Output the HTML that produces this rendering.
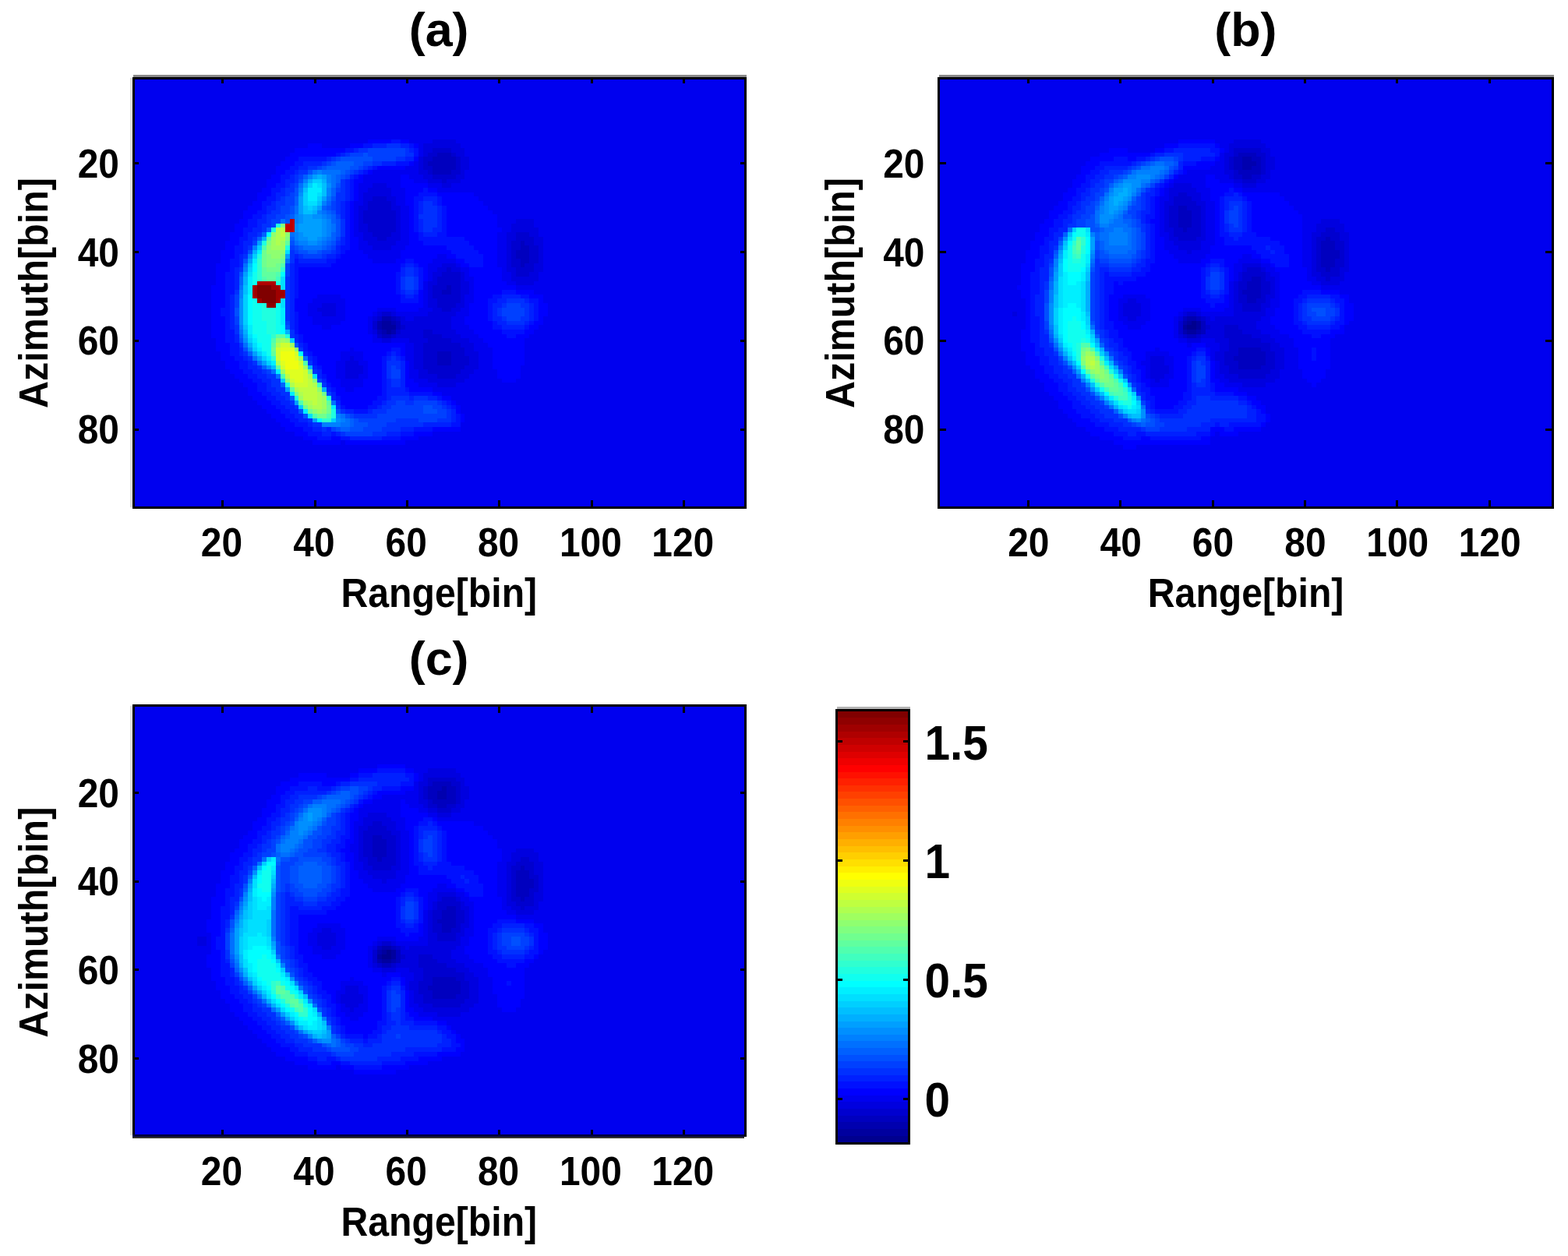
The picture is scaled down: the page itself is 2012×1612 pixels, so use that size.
<!DOCTYPE html>
<html lang="en"><head><meta charset="utf-8"><title>Range-Azimuth maps</title>
<style>html,body{margin:0;padding:0;background:#fff}body{width:2012px;height:1612px;overflow:hidden}svg{display:block}.t{font-family:"Liberation Sans",sans-serif;font-weight:bold;fill:#000}</style></head>
<body>
<svg width="2012" height="1612" viewBox="0 0 2012 1612">
<rect width="2012" height="1612" fill="#fff"/>
<g shape-rendering="crispEdges">
<rect x="170" y="99" width="788" height="554" fill="#0000ef"/>
<path fill="#00009f" d="M490 412h12v5h-12zM490 417h18v6h-18zM496 423h6v6h-6z"/>
<path fill="#0000af" d="M490 406h12v6h-12zM484 412h6v5h-6zM502 412h6v5h-6zM484 417h6v6h-6zM490 423h6v6h-6zM502 423h6v6h-6z"/>
<path fill="#0000bf" d="M561 196h18v5h-18zM555 201h30v6h-30zM549 207h36v6h-36zM555 213h30v5h-30zM555 218h24v6h-24zM668 309h5v6h-5zM668 315h11v6h-11zM662 321h17v5h-17zM662 326h17v6h-17zM668 332h11v6h-11zM668 338h5v5h-5zM573 366h6v6h-6zM567 372h12v6h-12zM502 406h6v6h-6zM508 412h6v5h-6zM508 417h6v6h-6zM484 423h6v6h-6zM490 429h12v5h-12zM561 451h18v6h-18zM561 457h18v6h-18zM561 463h18v6h-18z"/>
<path fill="#0000cf" d="M555 190h24v6h-24zM549 196h12v5h-12zM579 196h6v5h-6zM543 201h12v6h-12zM585 201h6v6h-6zM543 207h6v6h-6zM585 207h6v6h-6zM543 213h12v5h-12zM585 213h6v5h-6zM549 218h6v6h-6zM579 218h12v6h-12zM555 224h30v6h-30zM567 230h6v5h-6zM478 252h18v6h-18zM472 258h30v6h-30zM472 264h30v6h-30zM466 270h42v5h-42zM466 275h42v6h-42zM466 281h42v6h-42zM472 287h36v5h-36zM472 292h36v6h-36zM478 298h24v6h-24zM662 298h17v6h-17zM484 304h12v5h-12zM662 304h23v5h-23zM656 309h12v6h-12zM673 309h12v6h-12zM656 315h12v6h-12zM679 315h12v6h-12zM656 321h6v5h-6zM679 321h12v5h-12zM656 326h6v6h-6zM679 326h12v6h-12zM656 332h12v6h-12zM679 332h12v6h-12zM656 338h12v5h-12zM673 338h12v5h-12zM573 343h6v6h-6zM662 343h23v6h-23zM567 349h24v6h-24zM662 349h17v6h-17zM561 355h30v6h-30zM561 361h30v5h-30zM555 366h18v6h-18zM579 366h12v6h-12zM555 372h12v6h-12zM579 372h12v6h-12zM555 378h36v5h-36zM561 383h30v6h-30zM561 389h24v6h-24zM567 395h12v5h-12zM490 400h12v6h-12zM484 406h6v6h-6zM508 406h6v6h-6zM478 412h6v5h-6zM478 417h6v6h-6zM514 417h6v6h-6zM508 423h6v6h-6zM543 423h12v6h-12zM484 429h6v5h-6zM502 429h6v5h-6zM543 429h24v5h-24zM549 434h30v6h-30zM543 440h48v6h-48zM543 446h53v5h-53zM543 451h18v6h-18zM579 451h17v6h-17zM543 457h18v6h-18zM579 457h23v6h-23zM543 463h18v6h-18zM579 463h23v6h-23zM543 469h53v5h-53zM549 474h42v6h-42zM561 480h24v6h-24z"/>
<path fill="#0000df" d="M555 179h30v5h-30zM543 184h48v6h-48zM543 190h12v6h-12zM579 190h17v6h-17zM543 196h6v5h-6zM585 196h11v5h-11zM537 201h6v6h-6zM591 201h11v6h-11zM537 207h6v6h-6zM591 207h11v6h-11zM537 213h6v5h-6zM591 213h11v5h-11zM537 218h12v6h-12zM591 218h5v6h-5zM543 224h12v6h-12zM585 224h11v6h-11zM549 230h18v5h-18zM573 230h18v5h-18zM478 235h18v6h-18zM567 235h12v6h-12zM472 241h30v6h-30zM466 247h36v5h-36zM466 252h12v6h-12zM496 252h12v6h-12zM466 258h6v6h-6zM502 258h6v6h-6zM460 264h12v6h-12zM502 264h12v6h-12zM460 270h6v5h-6zM508 270h6v5h-6zM460 275h6v6h-6zM508 275h6v6h-6zM460 281h6v6h-6zM508 281h6v6h-6zM662 281h23v6h-23zM460 287h12v5h-12zM508 287h6v5h-6zM656 287h29v5h-29zM460 292h12v6h-12zM508 292h6v6h-6zM656 292h35v6h-35zM466 298h12v6h-12zM502 298h12v6h-12zM650 298h12v6h-12zM679 298h12v6h-12zM466 304h18v5h-18zM496 304h18v5h-18zM650 304h12v5h-12zM685 304h12v5h-12zM472 309h36v6h-36zM650 309h6v6h-6zM685 309h12v6h-12zM478 315h24v6h-24zM650 315h6v6h-6zM691 315h6v6h-6zM650 321h6v5h-6zM691 321h6v5h-6zM650 326h6v6h-6zM691 326h6v6h-6zM650 332h6v6h-6zM691 332h6v6h-6zM567 338h18v5h-18zM650 338h6v5h-6zM685 338h12v5h-12zM561 343h12v6h-12zM579 343h12v6h-12zM650 343h12v6h-12zM685 343h12v6h-12zM555 349h12v6h-12zM591 349h5v6h-5zM656 349h6v6h-6zM679 349h12v6h-12zM555 355h6v6h-6zM591 355h5v6h-5zM656 355h35v6h-35zM549 361h12v5h-12zM591 361h11v5h-11zM662 361h23v5h-23zM549 366h6v6h-6zM591 366h11v6h-11zM549 372h6v6h-6zM591 372h11v6h-11zM549 378h6v5h-6zM591 378h5v5h-5zM549 383h12v6h-12zM591 383h5v6h-5zM413 389h18v6h-18zM549 389h12v6h-12zM585 389h11v6h-11zM407 395h24v5h-24zM555 395h12v5h-12zM579 395h12v5h-12zM413 400h18v6h-18zM484 400h6v6h-6zM502 400h6v6h-6zM549 400h36v6h-36zM478 406h6v6h-6zM514 406h6v6h-6zM531 406h48v6h-48zM514 412h65v5h-65zM520 417h59v6h-59zM478 423h6v6h-6zM514 423h29v6h-29zM555 423h30v6h-30zM508 429h35v5h-35zM567 429h24v5h-24zM490 434h12v6h-12zM525 434h24v6h-24zM579 434h23v6h-23zM531 440h12v6h-12zM591 440h17v6h-17zM531 446h12v5h-12zM596 446h12v5h-12zM531 451h12v6h-12zM596 451h18v6h-18zM449 457h5v6h-5zM531 457h12v6h-12zM602 457h12v6h-12zM443 463h17v6h-17zM531 463h12v6h-12zM602 463h12v6h-12zM443 469h23v5h-23zM531 469h12v5h-12zM596 469h18v5h-18zM443 474h23v6h-23zM537 474h12v6h-12zM591 474h17v6h-17zM443 480h17v6h-17zM537 480h24v6h-24zM585 480h17v6h-17zM549 486h47v5h-47zM561 491h24v6h-24z"/>
<path fill="#0000ff" d="M472 179h30v5h-30zM514 179h11v5h-11zM395 184h18v6h-18zM449 184h17v6h-17zM531 184h6v6h-6zM378 190h65v6h-65zM372 196h59v5h-59zM366 201h17v6h-17zM531 201h6v6h-6zM360 207h18v6h-18zM525 207h6v6h-6zM354 213h18v5h-18zM484 213h36v5h-36zM354 218h12v6h-12zM472 218h6v6h-6zM348 224h12v6h-12zM460 224h6v6h-6zM514 224h11v6h-11zM342 230h18v5h-18zM454 230h12v5h-12zM514 230h17v5h-17zM342 235h12v6h-12zM454 235h6v6h-6zM514 235h35v6h-35zM336 241h12v6h-12zM454 241h6v6h-6zM520 241h23v6h-23zM549 241h12v6h-12zM330 247h18v5h-18zM454 247h6v5h-6zM520 247h17v5h-17zM561 247h47v5h-47zM330 252h12v6h-12zM454 252h6v6h-6zM520 252h11v6h-11zM567 252h47v6h-47zM324 258h12v6h-12zM449 258h5v6h-5zM520 258h11v6h-11zM567 258h53v6h-53zM318 264h18v6h-18zM449 264h5v6h-5zM525 264h6v6h-6zM573 264h53v6h-53zM312 270h18v5h-18zM449 270h5v5h-5zM525 270h6v5h-6zM573 270h59v5h-59zM312 275h12v6h-12zM449 275h5v6h-5zM525 275h6v6h-6zM573 275h65v6h-65zM307 281h11v6h-11zM449 281h5v6h-5zM525 281h6v6h-6zM573 281h65v6h-65zM301 287h17v5h-17zM449 287h5v5h-5zM525 287h6v5h-6zM573 287h65v5h-65zM301 292h11v6h-11zM449 292h5v6h-5zM525 292h6v6h-6zM573 292h71v6h-71zM295 298h17v6h-17zM449 298h5v6h-5zM525 298h12v6h-12zM573 298h65v6h-65zM295 304h12v5h-12zM449 304h11v5h-11zM525 304h12v5h-12zM596 304h42v5h-42zM289 309h18v6h-18zM449 309h11v6h-11zM525 309h18v6h-18zM602 309h36v6h-36zM289 315h12v6h-12zM449 315h11v6h-11zM520 315h53v6h-53zM608 315h30v6h-30zM283 321h18v5h-18zM443 321h23v5h-23zM514 321h65v5h-65zM614 321h24v5h-24zM283 326h18v6h-18zM437 326h35v6h-35zM514 326h47v6h-47zM573 326h12v6h-12zM620 326h18v6h-18zM283 332h12v6h-12zM431 332h47v6h-47zM508 332h12v6h-12zM531 332h24v6h-24zM585 332h11v6h-11zM620 332h18v6h-18zM277 338h18v5h-18zM425 338h89v5h-89zM537 338h12v5h-12zM591 338h11v5h-11zM620 338h18v5h-18zM277 343h18v6h-18zM383 343h131v6h-131zM543 343h6v6h-6zM602 343h42v6h-42zM277 349h12v6h-12zM383 349h125v6h-125zM543 349h6v6h-6zM602 349h42v6h-42zM277 355h12v6h-12zM383 355h125v6h-125zM543 355h6v6h-6zM608 355h36v6h-36zM277 361h12v5h-12zM383 361h125v5h-125zM608 361h42v5h-42zM271 366h18v6h-18zM383 366h125v6h-125zM608 366h54v6h-54zM271 372h18v6h-18zM383 372h125v6h-125zM537 372h6v6h-6zM608 372h36v6h-36zM662 372h23v6h-23zM271 378h18v5h-18zM383 378h24v5h-24zM437 378h77v5h-77zM537 378h6v5h-6zM608 378h24v5h-24zM679 378h18v5h-18zM271 383h18v6h-18zM378 383h23v6h-23zM443 383h71v6h-71zM537 383h6v6h-6zM608 383h18v6h-18zM691 383h6v6h-6zM271 389h18v6h-18zM378 389h17v6h-17zM443 389h100v6h-100zM602 389h24v6h-24zM691 389h12v6h-12zM271 395h12v5h-12zM378 395h17v5h-17zM443 395h41v5h-41zM508 395h29v5h-29zM602 395h24v5h-24zM691 395h12v5h-12zM271 400h12v6h-12zM383 400h12v6h-12zM443 400h35v6h-35zM602 400h24v6h-24zM691 400h12v6h-12zM271 406h18v6h-18zM383 406h18v6h-18zM443 406h29v6h-29zM596 406h30v6h-30zM691 406h6v6h-6zM271 412h18v5h-18zM383 412h18v5h-18zM437 412h35v5h-35zM596 412h36v5h-36zM685 412h12v5h-12zM271 417h18v6h-18zM383 417h30v6h-30zM425 417h47v6h-47zM602 417h30v6h-30zM679 417h12v6h-12zM271 423h18v6h-18zM383 423h89v6h-89zM608 423h36v6h-36zM673 423h12v6h-12zM271 429h18v5h-18zM389 429h89v5h-89zM614 429h36v5h-36zM662 429h17v5h-17zM277 434h12v6h-12zM389 434h89v6h-89zM620 434h53v6h-53zM277 440h18v6h-18zM395 440h125v6h-125zM626 440h47v6h-47zM277 446h18v5h-18zM395 446h54v5h-54zM454 446h48v5h-48zM514 446h6v5h-6zM632 446h41v5h-41zM283 451h12v6h-12zM401 451h36v6h-36zM466 451h30v6h-30zM514 451h6v6h-6zM632 451h41v6h-41zM283 457h18v6h-18zM407 457h30v6h-30zM466 457h24v6h-24zM632 457h41v6h-41zM289 463h18v6h-18zM407 463h24v6h-24zM472 463h18v6h-18zM520 463h5v6h-5zM632 463h41v6h-41zM289 469h18v5h-18zM413 469h18v5h-18zM472 469h18v5h-18zM520 469h5v5h-5zM632 469h36v5h-36zM295 474h17v6h-17zM413 474h18v6h-18zM472 474h18v6h-18zM520 474h5v6h-5zM638 474h30v6h-30zM301 480h17v6h-17zM419 480h12v6h-12zM472 480h18v6h-18zM520 480h5v6h-5zM638 480h30v6h-30zM307 486h17v5h-17zM419 486h18v5h-18zM466 486h24v5h-24zM520 486h11v5h-11zM644 486h18v5h-18zM312 491h18v6h-18zM425 491h12v6h-12zM466 491h24v6h-24zM520 491h17v6h-17zM318 497h12v6h-12zM431 497h12v6h-12zM454 497h36v6h-36zM525 497h30v6h-30zM318 503h18v5h-18zM431 503h59v5h-59zM555 503h12v5h-12zM324 508h18v6h-18zM437 508h47v6h-47zM567 508h12v6h-12zM330 514h18v6h-18zM437 514h41v6h-41zM579 514h6v6h-6zM336 520h18v5h-18zM443 520h29v5h-29zM585 520h6v5h-6zM342 525h18v6h-18zM585 525h6v6h-6zM348 531h18v6h-18zM591 531h5v6h-5zM354 537h18v5h-18zM591 537h5v5h-5zM360 542h18v6h-18zM366 548h23v6h-23zM555 548h36v6h-36zM378 554h17v6h-17zM531 554h24v6h-24zM389 560h18v5h-18zM425 560h12v5h-12zM514 560h23v5h-23zM401 565h36v6h-36zM443 565h77v6h-77z"/>
<path fill="#0010ff" d="M502 179h12v5h-12zM466 184h12v6h-12zM525 184h6v6h-6zM443 190h11v6h-11zM531 190h6v6h-6zM431 196h6v5h-6zM531 196h6v5h-6zM383 201h36v6h-36zM378 207h11v6h-11zM508 207h17v6h-17zM372 213h11v5h-11zM478 213h6v5h-6zM366 218h12v6h-12zM466 218h6v6h-6zM360 224h12v6h-12zM454 224h6v6h-6zM360 230h6v5h-6zM449 230h5v5h-5zM354 235h12v6h-12zM449 235h5v6h-5zM348 241h12v6h-12zM449 241h5v6h-5zM543 241h6v6h-6zM348 247h6v5h-6zM449 247h5v5h-5zM537 247h24v5h-24zM342 252h12v6h-12zM449 252h5v6h-5zM531 252h12v6h-12zM561 252h6v6h-6zM336 258h12v6h-12zM443 258h6v6h-6zM531 258h6v6h-6zM561 258h6v6h-6zM336 264h6v6h-6zM443 264h6v6h-6zM531 264h6v6h-6zM567 264h6v6h-6zM330 270h12v5h-12zM443 270h6v5h-6zM531 270h6v5h-6zM567 270h6v5h-6zM324 275h12v6h-12zM443 275h6v6h-6zM531 275h6v6h-6zM567 275h6v6h-6zM318 281h12v6h-12zM443 281h6v6h-6zM531 281h6v6h-6zM567 281h6v6h-6zM318 287h12v5h-12zM443 287h6v5h-6zM531 287h6v5h-6zM567 287h6v5h-6zM312 292h12v6h-12zM443 292h6v6h-6zM531 292h6v6h-6zM567 292h6v6h-6zM312 298h6v6h-6zM443 298h6v6h-6zM537 298h6v6h-6zM561 298h12v6h-12zM307 304h11v5h-11zM443 304h6v5h-6zM537 304h59v5h-59zM307 309h5v6h-5zM443 309h6v6h-6zM543 309h59v6h-59zM301 315h11v6h-11zM437 315h12v6h-12zM573 315h35v6h-35zM301 321h11v5h-11zM437 321h6v5h-6zM579 321h35v5h-35zM301 326h6v6h-6zM431 326h6v6h-6zM585 326h35v6h-35zM295 332h12v6h-12zM378 332h5v6h-5zM419 332h12v6h-12zM520 332h11v6h-11zM596 332h24v6h-24zM295 338h12v5h-12zM378 338h47v5h-47zM514 338h6v5h-6zM531 338h6v5h-6zM602 338h18v5h-18zM295 343h6v6h-6zM378 343h5v6h-5zM537 343h6v6h-6zM289 349h12v6h-12zM378 349h5v6h-5zM508 349h6v6h-6zM537 349h6v6h-6zM289 355h12v6h-12zM378 355h5v6h-5zM508 355h6v6h-6zM537 355h6v6h-6zM289 361h12v5h-12zM378 361h5v5h-5zM508 361h6v5h-6zM537 361h6v5h-6zM289 366h12v6h-12zM378 366h5v6h-5zM508 366h6v6h-6zM537 366h6v6h-6zM289 372h12v6h-12zM378 372h5v6h-5zM508 372h6v6h-6zM644 372h18v6h-18zM289 378h6v5h-6zM378 378h5v5h-5zM514 378h6v5h-6zM531 378h6v5h-6zM632 378h12v5h-12zM668 378h11v5h-11zM289 383h6v6h-6zM514 383h23v6h-23zM626 383h12v6h-12zM679 383h12v6h-12zM289 389h6v6h-6zM626 389h6v6h-6zM685 389h6v6h-6zM283 395h12v5h-12zM626 395h6v5h-6zM685 395h6v5h-6zM283 400h12v6h-12zM378 400h5v6h-5zM626 400h6v6h-6zM685 400h6v6h-6zM289 406h6v6h-6zM378 406h5v6h-5zM626 406h6v6h-6zM685 406h6v6h-6zM289 412h6v5h-6zM378 412h5v5h-5zM632 412h6v5h-6zM679 412h6v5h-6zM289 417h6v6h-6zM378 417h5v6h-5zM632 417h12v6h-12zM673 417h6v6h-6zM289 423h12v6h-12zM378 423h5v6h-5zM644 423h29v6h-29zM289 429h12v5h-12zM383 429h6v5h-6zM650 429h12v5h-12zM289 434h12v6h-12zM383 434h6v6h-6zM295 440h12v6h-12zM389 440h6v6h-6zM295 446h12v5h-12zM389 446h6v5h-6zM502 446h12v5h-12zM295 451h12v6h-12zM395 451h6v6h-6zM496 451h6v6h-6zM508 451h6v6h-6zM301 457h11v6h-11zM401 457h6v6h-6zM490 457h6v6h-6zM514 457h6v6h-6zM307 463h11v6h-11zM401 463h6v6h-6zM490 463h6v6h-6zM307 469h11v5h-11zM407 469h6v5h-6zM490 469h6v5h-6zM312 474h12v6h-12zM490 474h6v6h-6zM318 480h12v6h-12zM413 480h6v6h-6zM490 480h6v6h-6zM324 486h12v5h-12zM490 486h6v5h-6zM330 491h12v6h-12zM419 491h6v6h-6zM490 491h6v6h-6zM330 497h12v6h-12zM425 497h6v6h-6zM490 497h6v6h-6zM520 497h5v6h-5zM336 503h12v5h-12zM490 503h6v5h-6zM525 503h30v5h-30zM342 508h12v6h-12zM431 508h6v6h-6zM484 508h12v6h-12zM561 508h6v6h-6zM348 514h12v6h-12zM478 514h12v6h-12zM573 514h6v6h-6zM354 520h12v5h-12zM437 520h6v5h-6zM472 520h12v5h-12zM579 520h6v5h-6zM360 525h12v6h-12zM454 525h18v6h-18zM366 531h12v6h-12zM585 531h6v6h-6zM372 537h11v5h-11zM585 537h6v5h-6zM378 542h17v6h-17zM579 542h12v6h-12zM389 548h12v6h-12zM531 548h24v6h-24zM395 554h18v6h-18zM425 554h6v6h-6zM514 554h17v6h-17zM407 560h18v5h-18zM437 560h12v5h-12zM490 560h24v5h-24z"/>
<path fill="#0020ff" d="M478 184h18v6h-18zM514 184h11v6h-11zM454 190h6v6h-6zM525 190h6v6h-6zM437 196h6v5h-6zM419 201h6v6h-6zM520 201h11v6h-11zM389 207h24v6h-24zM490 207h18v6h-18zM383 213h12v5h-12zM472 213h6v5h-6zM378 218h5v6h-5zM460 218h6v6h-6zM372 224h6v6h-6zM449 224h5v6h-5zM366 230h12v5h-12zM443 230h6v5h-6zM366 235h6v6h-6zM443 235h6v6h-6zM360 241h6v6h-6zM443 241h6v6h-6zM354 247h12v5h-12zM443 247h6v5h-6zM354 252h6v6h-6zM443 252h6v6h-6zM543 252h18v6h-18zM348 258h6v6h-6zM437 258h6v6h-6zM537 258h6v6h-6zM555 258h6v6h-6zM342 264h12v6h-12zM437 264h6v6h-6zM537 264h6v6h-6zM561 264h6v6h-6zM342 270h6v5h-6zM437 270h6v5h-6zM537 270h6v5h-6zM561 270h6v5h-6zM336 275h6v6h-6zM437 275h6v6h-6zM561 275h6v6h-6zM330 281h12v6h-12zM537 281h6v6h-6zM561 281h6v6h-6zM330 287h6v5h-6zM537 287h6v5h-6zM561 287h6v5h-6zM324 292h12v6h-12zM537 292h6v6h-6zM555 292h12v6h-12zM318 298h12v6h-12zM543 298h18v6h-18zM318 304h6v5h-6zM437 304h6v5h-6zM312 309h12v6h-12zM437 309h6v6h-6zM312 315h6v6h-6zM431 315h6v6h-6zM312 321h6v5h-6zM431 321h6v5h-6zM307 326h5v6h-5zM378 326h5v6h-5zM419 326h12v6h-12zM307 332h5v6h-5zM383 332h36v6h-36zM307 338h5v5h-5zM372 338h6v5h-6zM520 338h11v5h-11zM301 343h6v6h-6zM372 343h6v6h-6zM514 343h6v6h-6zM531 343h6v6h-6zM301 349h6v6h-6zM372 349h6v6h-6zM514 349h6v6h-6zM531 349h6v6h-6zM301 355h6v6h-6zM372 355h6v6h-6zM301 361h6v5h-6zM372 361h6v5h-6zM301 366h6v6h-6zM372 366h6v6h-6zM372 372h6v6h-6zM514 372h6v6h-6zM531 372h6v6h-6zM295 378h6v5h-6zM372 378h6v5h-6zM520 378h11v5h-11zM644 378h24v5h-24zM295 383h6v6h-6zM372 383h6v6h-6zM638 383h12v6h-12zM673 383h6v6h-6zM295 389h6v6h-6zM372 389h6v6h-6zM632 389h12v6h-12zM679 389h6v6h-6zM295 395h6v5h-6zM372 395h6v5h-6zM632 395h6v5h-6zM679 395h6v5h-6zM295 400h6v6h-6zM372 400h6v6h-6zM632 400h6v6h-6zM679 400h6v6h-6zM295 406h6v6h-6zM372 406h6v6h-6zM632 406h12v6h-12zM679 406h6v6h-6zM295 412h6v5h-6zM372 412h6v5h-6zM638 412h12v5h-12zM673 412h6v5h-6zM295 417h6v6h-6zM372 417h6v6h-6zM644 417h29v6h-29zM301 429h6v5h-6zM378 429h5v5h-5zM301 434h6v6h-6zM378 434h5v6h-5zM383 440h6v6h-6zM307 446h5v5h-5zM307 451h5v6h-5zM389 451h6v6h-6zM502 451h6v6h-6zM312 457h6v6h-6zM395 457h6v6h-6zM496 457h6v6h-6zM508 457h6v6h-6zM318 463h6v6h-6zM514 463h6v6h-6zM318 469h12v5h-12zM401 469h6v5h-6zM514 469h6v5h-6zM324 474h12v6h-12zM407 474h6v6h-6zM514 474h6v6h-6zM330 480h12v6h-12zM407 480h6v6h-6zM514 480h6v6h-6zM336 486h12v5h-12zM413 486h6v5h-6zM496 486h6v5h-6zM514 486h6v5h-6zM342 491h6v6h-6zM496 491h6v6h-6zM514 491h6v6h-6zM342 497h12v6h-12zM419 497h6v6h-6zM496 497h24v6h-24zM348 503h12v5h-12zM425 503h6v5h-6zM496 503h29v5h-29zM354 508h12v6h-12zM425 508h6v6h-6zM496 508h6v6h-6zM525 508h6v6h-6zM549 508h12v6h-12zM360 514h12v6h-12zM431 514h6v6h-6zM490 514h6v6h-6zM567 514h6v6h-6zM366 520h12v5h-12zM484 520h6v5h-6zM573 520h6v5h-6zM372 525h11v6h-11zM443 525h11v6h-11zM472 525h6v6h-6zM579 525h6v6h-6zM378 531h11v6h-11zM579 531h6v6h-6zM383 537h12v5h-12zM579 537h6v5h-6zM395 542h6v6h-6zM543 542h36v6h-36zM401 548h12v6h-12zM419 548h6v6h-6zM514 548h17v6h-17zM413 554h12v6h-12zM431 554h6v6h-6zM496 554h18v6h-18zM449 560h41v5h-41z"/>
<path fill="#0030ff" d="M496 184h18v6h-18zM460 190h12v6h-12zM520 190h5v6h-5zM443 196h6v5h-6zM520 196h11v5h-11zM425 201h6v6h-6zM508 201h12v6h-12zM413 207h6v6h-6zM478 207h12v6h-12zM395 213h12v5h-12zM466 213h6v5h-6zM383 218h12v6h-12zM454 218h6v6h-6zM378 224h5v6h-5zM378 230h5v5h-5zM437 230h6v5h-6zM372 235h6v6h-6zM437 235h6v6h-6zM366 241h12v6h-12zM437 241h6v6h-6zM366 247h6v5h-6zM431 247h12v5h-12zM360 252h6v6h-6zM431 252h12v6h-12zM354 258h12v6h-12zM431 258h6v6h-6zM543 258h12v6h-12zM354 264h6v6h-6zM431 264h6v6h-6zM543 264h18v6h-18zM348 270h12v5h-12zM431 270h6v5h-6zM543 270h18v5h-18zM342 275h12v6h-12zM537 275h24v6h-24zM342 281h6v6h-6zM437 281h6v6h-6zM543 281h18v6h-18zM336 287h12v5h-12zM437 287h6v5h-6zM543 287h18v5h-18zM336 292h6v6h-6zM437 292h6v6h-6zM543 292h12v6h-12zM330 298h6v6h-6zM437 298h6v6h-6zM324 304h6v5h-6zM431 309h6v6h-6zM318 315h6v6h-6zM372 321h6v5h-6zM425 321h6v5h-6zM312 326h6v6h-6zM372 326h6v6h-6zM383 326h6v6h-6zM413 326h6v6h-6zM372 332h6v6h-6zM307 343h5v6h-5zM520 343h11v6h-11zM520 349h11v6h-11zM366 355h6v6h-6zM514 355h6v6h-6zM531 355h6v6h-6zM366 361h6v5h-6zM514 361h6v5h-6zM531 361h6v5h-6zM366 366h6v6h-6zM514 366h6v6h-6zM531 366h6v6h-6zM301 372h6v6h-6zM366 372h6v6h-6zM520 372h11v6h-11zM366 378h6v5h-6zM366 383h6v6h-6zM650 383h23v6h-23zM366 389h6v6h-6zM644 389h6v6h-6zM668 389h11v6h-11zM366 395h6v5h-6zM638 395h6v5h-6zM673 395h6v5h-6zM366 400h6v6h-6zM638 400h6v6h-6zM673 400h6v6h-6zM366 406h6v6h-6zM644 406h6v6h-6zM668 406h11v6h-11zM650 412h23v5h-23zM301 417h6v6h-6zM301 423h6v6h-6zM372 423h6v6h-6zM372 429h6v5h-6zM307 440h5v6h-5zM383 446h6v5h-6zM312 451h6v6h-6zM318 457h6v6h-6zM502 457h6v6h-6zM324 463h6v6h-6zM395 463h6v6h-6zM496 463h18v6h-18zM330 469h6v5h-6zM496 469h6v5h-6zM508 469h6v5h-6zM336 474h6v6h-6zM401 474h6v6h-6zM496 474h6v6h-6zM342 480h12v6h-12zM496 480h6v6h-6zM348 486h12v5h-12zM502 486h12v5h-12zM348 491h12v6h-12zM413 491h6v6h-6zM502 491h12v6h-12zM354 497h12v6h-12zM360 503h12v5h-12zM366 508h6v6h-6zM502 508h23v6h-23zM531 508h18v6h-18zM372 514h6v6h-6zM496 514h12v6h-12zM520 514h11v6h-11zM561 514h6v6h-6zM378 520h5v5h-5zM431 520h6v5h-6zM490 520h12v5h-12zM567 520h6v5h-6zM437 525h6v6h-6zM478 525h18v6h-18zM573 525h6v6h-6zM454 531h30v6h-30zM573 531h6v6h-6zM395 537h6v5h-6zM508 537h29v5h-29zM561 537h18v5h-18zM401 542h12v6h-12zM496 542h47v6h-47zM413 548h6v6h-6zM490 548h24v6h-24zM437 554h6v6h-6zM478 554h18v6h-18z"/>
<path fill="#0040ff" d="M472 190h48v6h-48zM449 196h17v5h-17zM472 196h48v5h-48zM431 201h6v6h-6zM478 201h30v6h-30zM419 207h6v6h-6zM466 207h12v6h-12zM407 213h6v5h-6zM460 213h6v5h-6zM449 218h5v6h-5zM383 224h6v6h-6zM443 224h6v6h-6zM378 235h5v6h-5zM431 241h6v6h-6zM372 247h6v5h-6zM366 252h12v6h-12zM366 258h12v6h-12zM425 258h6v6h-6zM360 264h12v6h-12zM425 264h6v6h-6zM360 270h12v5h-12zM354 275h12v6h-12zM431 275h6v6h-6zM348 281h12v6h-12zM348 287h6v5h-6zM431 304h6v5h-6zM324 309h6v6h-6zM372 315h6v6h-6zM425 315h6v6h-6zM378 321h5v5h-5zM413 321h12v5h-12zM389 326h24v6h-24zM366 338h6v5h-6zM366 343h6v6h-6zM366 349h6v6h-6zM520 355h11v6h-11zM520 361h11v5h-11zM520 366h11v6h-11zM301 378h6v5h-6zM301 383h6v6h-6zM301 389h6v6h-6zM650 389h18v6h-18zM644 395h29v5h-29zM644 400h29v6h-29zM301 406h6v6h-6zM650 406h18v6h-18zM301 412h6v5h-6zM366 412h6v5h-6zM502 469h6v5h-6zM342 474h6v6h-6zM502 474h12v6h-12zM502 480h12v6h-12zM407 486h6v5h-6zM419 503h6v5h-6zM508 514h12v6h-12zM531 514h30v6h-30zM502 520h41v5h-41zM555 520h12v5h-12zM496 525h47v6h-47zM561 525h12v6h-12zM449 531h5v6h-5zM484 531h89v6h-89zM460 537h48v5h-48zM537 537h24v5h-24zM472 542h24v6h-24zM425 548h6v6h-6zM466 548h24v6h-24zM443 554h35v6h-35z"/>
<path fill="#0050ff" d="M466 196h6v5h-6zM437 201h41v6h-41zM425 207h6v6h-6zM454 207h12v6h-12zM413 213h6v5h-6zM449 213h11v5h-11zM395 218h6v6h-6zM443 218h6v6h-6zM437 224h6v6h-6zM383 230h6v5h-6zM431 235h6v6h-6zM378 241h5v6h-5zM378 247h5v5h-5zM425 252h6v6h-6zM372 264h6v6h-6zM419 264h6v6h-6zM372 270h6v5h-6zM425 270h6v5h-6zM366 275h6v6h-6zM366 281h6v6h-6zM431 281h6v6h-6zM431 287h6v5h-6zM431 292h6v6h-6zM431 298h6v6h-6zM372 309h6v6h-6zM425 309h6v6h-6zM378 315h5v6h-5zM419 315h6v6h-6zM318 321h6v5h-6zM383 321h12v5h-12zM407 321h6v5h-6zM312 332h6v6h-6zM307 349h5v6h-5zM301 395h6v5h-6zM301 400h6v6h-6zM366 417h6v6h-6zM307 434h5v6h-5zM378 440h5v6h-5zM312 446h6v5h-6zM543 520h12v5h-12zM383 525h6v6h-6zM431 525h6v6h-6zM543 525h18v6h-18zM389 531h6v6h-6zM443 531h6v6h-6zM454 537h6v5h-6zM454 542h18v6h-18zM431 548h6v6h-6zM449 548h17v6h-17z"/>
<path fill="#0060ff" d="M431 207h23v6h-23zM419 213h30v5h-30zM437 218h6v6h-6zM389 224h6v6h-6zM431 224h6v6h-6zM431 230h6v5h-6zM425 241h6v6h-6zM425 247h6v5h-6zM378 252h5v6h-5zM378 258h5v6h-5zM419 258h6v6h-6zM413 264h6v6h-6zM419 270h6v5h-6zM372 275h6v6h-6zM425 275h6v6h-6zM425 281h6v6h-6zM342 292h6v6h-6zM336 298h6v6h-6zM425 298h6v6h-6zM330 304h6v5h-6zM372 304h6v5h-6zM425 304h6v5h-6zM419 309h6v6h-6zM383 315h6v6h-6zM413 315h6v6h-6zM395 321h12v5h-12zM307 355h5v6h-5zM307 361h5v5h-5zM307 429h5v5h-5zM318 451h6v6h-6zM336 469h6v5h-6zM360 491h6v6h-6zM372 508h6v6h-6zM449 537h5v5h-5zM449 542h5v6h-5zM437 548h12v6h-12z"/>
<path fill="#0070ff" d="M401 218h6v6h-6zM413 218h24v6h-24zM425 224h6v6h-6zM425 230h6v5h-6zM383 235h6v6h-6zM425 235h6v6h-6zM419 252h6v6h-6zM378 264h5v6h-5zM378 270h5v5h-5zM413 270h6v5h-6zM419 275h6v6h-6zM360 281h6v6h-6zM425 287h6v5h-6zM425 292h6v6h-6zM372 298h6v6h-6zM419 304h6v5h-6zM378 309h5v6h-5zM413 309h6v6h-6zM389 315h24v6h-24zM366 332h6v6h-6zM312 338h6v5h-6zM307 366h5v6h-5zM307 423h5v6h-5zM312 440h6v6h-6zM324 457h6v6h-6zM389 457h6v6h-6zM330 463h6v6h-6zM348 474h6v6h-6zM354 480h6v6h-6zM425 514h6v6h-6zM437 531h6v6h-6zM443 537h6v5h-6zM437 542h12v6h-12z"/>
<path fill="#0080ff" d="M407 218h6v6h-6zM395 224h6v6h-6zM419 224h6v6h-6zM389 230h6v5h-6zM419 230h6v5h-6zM383 241h6v6h-6zM419 241h6v6h-6zM419 247h6v5h-6zM413 258h6v6h-6zM407 270h6v5h-6zM378 275h5v6h-5zM413 275h6v6h-6zM378 281h5v6h-5zM419 281h6v6h-6zM419 287h6v5h-6zM419 292h6v6h-6zM378 298h5v6h-5zM419 298h6v6h-6zM378 304h5v5h-5zM413 304h6v5h-6zM383 309h12v6h-12zM407 309h6v6h-6zM324 315h6v6h-6zM318 326h6v6h-6zM312 343h6v6h-6zM307 372h5v6h-5zM307 378h5v5h-5zM307 417h5v6h-5zM431 531h6v6h-6zM437 537h6v5h-6zM413 542h24v6h-24z"/>
<path fill="#008fff" d="M419 235h6v6h-6zM383 247h6v5h-6zM383 275h6v6h-6zM401 275h12v6h-12zM383 281h6v6h-6zM413 281h6v6h-6zM378 287h5v5h-5zM413 287h6v5h-6zM378 292h5v6h-5zM413 292h6v6h-6zM383 298h6v6h-6zM413 298h6v6h-6zM383 304h12v5h-12zM407 304h6v5h-6zM395 309h12v6h-12zM307 383h5v6h-5zM307 389h5v6h-5zM307 395h5v5h-5zM307 400h5v6h-5zM307 406h5v6h-5zM307 412h5v5h-5zM312 434h6v6h-6zM318 446h6v5h-6zM342 469h6v5h-6zM431 537h6v5h-6z"/>
<path fill="#009fff" d="M401 224h6v6h-6zM413 224h6v6h-6zM389 235h6v6h-6zM383 252h6v6h-6zM413 252h6v6h-6zM383 258h6v6h-6zM383 264h6v6h-6zM407 264h6v6h-6zM383 270h6v5h-6zM389 275h12v6h-12zM389 281h24v6h-24zM383 287h30v5h-30zM383 292h30v6h-30zM389 298h24v6h-24zM395 304h12v5h-12zM330 309h6v6h-6zM366 326h6v6h-6zM318 332h6v6h-6zM312 349h6v6h-6zM312 429h6v5h-6zM324 451h6v6h-6zM330 457h6v6h-6zM336 463h6v6h-6zM366 497h6v6h-6zM378 514h5v6h-5zM401 537h6v5h-6z"/>
<path fill="#00afff" d="M407 224h6v6h-6zM395 230h6v5h-6zM413 230h6v5h-6zM401 270h6v5h-6zM336 304h6v5h-6zM324 321h6v5h-6zM312 355h6v6h-6zM312 361h6v5h-6zM312 423h6v6h-6zM366 423h6v6h-6zM318 440h6v6h-6zM395 469h6v5h-6zM413 497h6v6h-6z"/>
<path fill="#00bfff" d="M413 235h6v6h-6zM389 241h6v6h-6zM413 241h6v6h-6zM413 247h6v5h-6zM407 258h6v6h-6zM389 264h6v6h-6zM401 264h6v6h-6zM389 270h12v5h-12zM318 338h6v5h-6zM312 366h6v6h-6zM312 372h6v6h-6zM312 417h6v6h-6zM348 469h6v5h-6z"/>
<path fill="#00cfff" d="M401 230h12v5h-12zM395 235h6v6h-6zM389 247h6v5h-6zM389 252h6v6h-6zM407 252h6v6h-6zM389 258h6v6h-6zM395 264h6v6h-6zM330 315h6v6h-6zM324 326h6v6h-6zM318 343h6v6h-6zM312 378h6v5h-6zM312 383h6v6h-6zM312 389h6v6h-6zM312 395h6v5h-6zM312 400h6v6h-6zM312 406h6v6h-6zM312 412h6v5h-6zM318 434h6v6h-6zM372 434h6v6h-6zM324 446h6v5h-6zM330 451h6v6h-6zM336 457h6v6h-6zM342 463h6v6h-6zM360 486h6v5h-6zM383 520h6v5h-6zM425 537h6v5h-6z"/>
<path fill="#00dfff" d="M407 235h6v6h-6zM407 247h6v5h-6zM395 258h12v6h-12zM366 321h6v5h-6zM318 349h6v6h-6zM360 355h6v6h-6zM360 361h6v5h-6zM360 366h6v6h-6zM360 383h6v6h-6zM360 389h6v6h-6zM318 429h6v5h-6zM324 440h6v6h-6zM401 480h6v6h-6zM395 531h6v6h-6z"/>
<path fill="#00efff" d="M401 235h6v6h-6zM395 241h18v6h-18zM395 247h12v5h-12zM395 252h12v6h-12zM330 321h6v5h-6zM324 332h6v6h-6zM318 355h6v6h-6zM318 361h6v5h-6zM318 366h6v6h-6zM318 372h6v6h-6zM360 395h6v5h-6zM360 400h6v6h-6zM360 406h6v6h-6zM360 412h6v5h-6zM318 417h6v6h-6zM318 423h6v6h-6zM324 434h6v6h-6zM330 446h6v5h-6zM336 451h6v6h-6zM342 457h6v6h-6zM348 463h6v6h-6zM354 474h6v6h-6zM372 503h6v5h-6zM425 520h6v5h-6zM389 525h6v6h-6z"/>
<path fill="#00ffff" d="M342 298h6v6h-6zM324 338h6v5h-6zM324 343h6v6h-6zM360 349h6v6h-6zM318 378h6v5h-6zM318 383h6v6h-6zM318 389h6v6h-6zM318 395h6v5h-6zM318 400h6v6h-6zM318 406h6v6h-6zM318 412h6v5h-6zM360 417h6v6h-6zM360 423h6v6h-6zM324 429h6v5h-6zM330 440h6v6h-6zM383 451h6v6h-6zM407 537h6v5h-6z"/>
<path fill="#10ffef" d="M324 349h6v6h-6zM324 355h6v6h-6zM324 361h6v5h-6zM324 383h6v6h-6zM324 389h12v6h-12zM354 389h6v6h-6zM324 395h12v5h-12zM354 395h6v5h-6zM324 400h12v6h-12zM354 400h6v6h-6zM324 406h12v6h-12zM354 406h6v6h-6zM324 412h18v5h-18zM354 412h6v5h-6zM324 417h18v6h-18zM354 417h6v6h-6zM324 423h18v6h-18zM354 423h6v6h-6zM330 429h18v5h-18zM330 434h18v6h-18zM336 440h12v6h-12zM336 446h12v5h-12zM342 451h6v6h-6z"/>
<path fill="#20ffdf" d="M354 287h6v5h-6zM348 292h6v6h-6zM336 309h6v6h-6zM366 315h6v6h-6zM330 326h6v6h-6zM354 361h6v5h-6zM336 389h6v6h-6zM336 395h18v5h-18zM336 400h18v6h-18zM336 406h18v6h-18zM342 412h12v5h-12zM342 417h12v6h-12zM342 423h12v6h-12zM366 429h6v5h-6zM366 491h6v6h-6zM378 508h5v6h-5zM419 508h6v6h-6zM425 525h6v6h-6zM425 531h6v6h-6z"/>
<path fill="#30ffcf" d="M330 332h6v6h-6zM330 338h6v5h-6zM330 343h6v6h-6zM360 343h6v6h-6zM330 349h6v6h-6zM330 355h6v6h-6zM348 429h6v5h-6zM348 457h6v6h-6zM413 537h12v5h-12z"/>
<path fill="#40ffbf" d="M354 355h6v6h-6zM407 491h6v6h-6z"/>
<path fill="#50ffaf" d="M336 315h6v6h-6zM360 338h6v5h-6zM354 349h6v6h-6zM336 355h6v6h-6zM348 434h6v6h-6zM389 463h6v6h-6zM360 480h6v6h-6zM383 514h6v6h-6zM401 531h6v6h-6zM419 531h6v6h-6z"/>
<path fill="#60ff9f" d="M342 304h6v5h-6zM366 309h6v6h-6zM336 343h6v6h-6zM336 349h18v6h-18zM342 355h12v6h-12zM354 429h12v5h-12zM348 440h6v6h-6zM348 451h6v6h-6zM354 469h6v5h-6zM372 497h6v6h-6zM419 514h6v6h-6z"/>
<path fill="#70ff8f" d="M336 321h6v5h-6zM336 326h6v6h-6zM336 332h6v6h-6zM360 332h6v6h-6zM336 338h6v5h-6zM354 338h6v5h-6zM342 343h18v6h-18zM348 446h6v5h-6zM395 474h6v6h-6zM413 503h6v5h-6zM389 520h6v5h-6zM419 520h6v5h-6zM395 525h6v6h-6zM419 525h6v6h-6zM407 531h12v6h-12z"/>
<path fill="#80ff80" d="M360 287h6v5h-6zM366 304h6v5h-6zM342 309h6v6h-6zM342 326h6v6h-6zM360 326h6v6h-6zM342 332h18v6h-18zM342 338h12v5h-12zM401 486h6v5h-6zM378 503h5v5h-5z"/>
<path fill="#8fff70" d="M348 298h6v6h-6zM366 298h6v6h-6zM342 315h6v6h-6zM342 321h24v5h-24zM348 326h12v6h-12zM354 434h6v6h-6zM366 434h6v6h-6zM378 446h5v5h-5zM366 486h6v5h-6zM407 497h6v6h-6zM401 525h6v6h-6zM413 525h6v6h-6z"/>
<path fill="#9fff60" d="M348 304h6v5h-6zM348 309h6v6h-6zM360 309h6v6h-6zM348 315h18v6h-18zM360 434h6v6h-6zM372 440h6v6h-6zM383 457h6v6h-6zM389 469h6v5h-6zM360 474h6v6h-6zM383 508h6v6h-6zM413 508h6v6h-6zM389 514h6v6h-6zM413 514h6v6h-6zM395 520h6v5h-6zM413 520h6v5h-6zM407 525h6v6h-6z"/>
<path fill="#afff50" d="M354 292h6v6h-6zM354 298h6v6h-6zM354 304h12v5h-12zM354 309h6v6h-6zM354 440h6v6h-6zM354 463h6v6h-6zM395 480h6v6h-6zM372 491h6v6h-6zM401 491h6v6h-6zM378 497h5v6h-5zM383 503h6v5h-6zM407 503h6v5h-6zM407 508h6v6h-6zM395 514h6v6h-6zM407 514h6v6h-6zM401 520h12v5h-12z"/>
<path fill="#bfff40" d="M360 292h6v6h-6zM360 298h6v6h-6zM366 480h6v6h-6zM395 486h6v5h-6zM395 491h6v6h-6zM383 497h24v6h-24zM389 503h18v5h-18zM389 508h18v6h-18zM401 514h6v6h-6z"/>
<path fill="#cfff30" d="M360 440h12v6h-12zM354 446h6v5h-6zM354 451h6v6h-6zM378 451h5v6h-5zM354 457h6v6h-6zM383 463h6v6h-6zM360 469h6v5h-6zM389 474h6v6h-6zM389 480h6v6h-6zM372 486h6v5h-6zM389 486h6v5h-6zM378 491h17v6h-17z"/>
<path fill="#dfff20" d="M360 446h18v5h-18zM378 457h5v6h-5zM360 463h6v6h-6zM383 469h6v5h-6zM366 474h23v6h-23zM372 480h17v6h-17zM378 486h11v5h-11z"/>
<path fill="#efff10" d="M360 451h18v6h-18zM360 457h18v6h-18zM366 463h17v6h-17zM366 469h17v5h-17z"/>
<path fill="#bf0000" d="M372 281h6v6h-6zM366 287h12v5h-12zM366 292h12v6h-12z"/>
<path fill="#af0000" d="M330 361h24v5h-24z"/>
<path fill="#9f0000" d="M324 366h6v6h-6zM348 366h12v6h-12zM324 372h6v6h-6zM354 372h12v6h-12zM324 378h6v5h-6zM354 378h12v5h-12zM330 383h6v6h-6zM354 383h6v6h-6z"/>
<path fill="#8f0000" d="M342 389h12v6h-12z"/>
<path fill="#800000" d="M330 366h18v6h-18zM330 372h24v6h-24zM330 378h24v5h-24zM336 383h18v6h-18z"/>

<rect x="171.5" y="100.5" width="785" height="551" fill="none" stroke="#000" stroke-width="3"/>
<rect x="171" y="96" width="787" height="3" fill="#8a8a8a"/><rect x="167" y="100" width="3" height="551" fill="#dedede"/>
<rect x="284" y="102" width="3" height="5" fill="#000"/>
<rect x="284" y="642" width="3" height="8" fill="#000"/>
<rect x="403" y="102" width="3" height="5" fill="#000"/>
<rect x="403" y="642" width="3" height="8" fill="#000"/>
<rect x="521" y="102" width="3" height="5" fill="#000"/>
<rect x="521" y="642" width="3" height="8" fill="#000"/>
<rect x="639" y="102" width="3" height="5" fill="#000"/>
<rect x="639" y="642" width="3" height="8" fill="#000"/>
<rect x="758" y="102" width="3" height="5" fill="#000"/>
<rect x="758" y="642" width="3" height="8" fill="#000"/>
<rect x="876" y="102" width="3" height="5" fill="#000"/>
<rect x="876" y="642" width="3" height="8" fill="#000"/>
<rect x="173" y="208" width="5" height="3" fill="#000"/>
<rect x="950" y="208" width="5" height="3" fill="#000"/>
<rect x="173" y="322" width="5" height="3" fill="#000"/>
<rect x="950" y="322" width="5" height="3" fill="#000"/>
<rect x="173" y="436" width="5" height="3" fill="#000"/>
<rect x="950" y="436" width="5" height="3" fill="#000"/>
<rect x="173" y="550" width="5" height="3" fill="#000"/>
<rect x="950" y="550" width="5" height="3" fill="#000"/>
</g>
<text transform="translate(284.5 713.5) scale(0.93 1)" font-size="51.5" text-anchor="middle" class="t">20</text>
<text transform="translate(402.9 713.5) scale(0.93 1)" font-size="51.5" text-anchor="middle" class="t">40</text>
<text transform="translate(521.2 713.5) scale(0.93 1)" font-size="51.5" text-anchor="middle" class="t">60</text>
<text transform="translate(639.6 713.5) scale(0.93 1)" font-size="51.5" text-anchor="middle" class="t">80</text>
<text transform="translate(757.9 713.5) scale(0.93 1)" font-size="51.5" text-anchor="middle" class="t">100</text>
<text transform="translate(876.3 713.5) scale(0.93 1)" font-size="51.5" text-anchor="middle" class="t">120</text>
<text transform="translate(153.0 227.8) scale(0.93 1)" font-size="51.5" text-anchor="end" class="t">20</text>
<text transform="translate(153.0 341.5) scale(0.93 1)" font-size="51.5" text-anchor="end" class="t">40</text>
<text transform="translate(153.0 455.3) scale(0.93 1)" font-size="51.5" text-anchor="end" class="t">60</text>
<text transform="translate(153.0 569.0) scale(0.93 1)" font-size="51.5" text-anchor="end" class="t">80</text>
<text transform="translate(563.3 778.7) scale(0.945 1)" font-size="51" text-anchor="middle" class="t">Range[bin]</text>
<text transform="translate(563.1 58.5) scale(1.03 1)" font-size="61" text-anchor="middle" class="t">(a)</text>
<text transform="translate(61.2 376.0) rotate(-90) scale(0.95 1)" font-size="51" text-anchor="middle" class="t">Azimuth[bin]</text>
<g shape-rendering="crispEdges">
<rect x="1203" y="99" width="791" height="554" fill="#0000ef"/>
<path fill="#00008f" d="M1529 412h6v5h-6zM1523 417h12v6h-12z"/>
<path fill="#00009f" d="M1523 412h6v5h-6zM1535 412h6v5h-6zM1518 417h5v6h-5zM1535 417h6v6h-6zM1523 423h12v6h-12z"/>
<path fill="#0000af" d="M1594 201h12v6h-12zM1594 207h18v6h-18zM1594 213h12v5h-12zM1523 406h12v6h-12zM1518 412h5v5h-5zM1518 423h5v6h-5zM1535 423h6v6h-6z"/>
<path fill="#0000bf" d="M1589 196h23v5h-23zM1583 201h11v6h-11zM1606 201h12v6h-12zM1583 207h11v6h-11zM1612 207h6v6h-6zM1583 213h11v5h-11zM1606 213h12v5h-12zM1589 218h29v6h-29zM1594 224h12v6h-12zM1512 264h11v6h-11zM1512 270h17v5h-17zM1512 275h17v6h-17zM1512 281h17v6h-17zM1512 287h17v5h-17zM1518 292h5v6h-5zM1701 304h6v5h-6zM1695 309h18v6h-18zM1695 315h18v6h-18zM1695 321h24v5h-24zM1695 326h24v6h-24zM1695 332h18v6h-18zM1695 338h18v5h-18zM1701 343h6v6h-6zM1606 355h12v6h-12zM1600 361h18v5h-18zM1600 366h18v6h-18zM1594 372h24v6h-24zM1600 378h18v5h-18zM1600 383h12v6h-12zM1518 406h5v6h-5zM1535 406h6v6h-6zM1541 412h6v5h-6zM1541 417h6v6h-6zM1541 423h6v6h-6zM1523 429h12v5h-12zM1589 446h29v5h-29zM1589 451h35v6h-35zM1583 457h41v6h-41zM1589 463h35v6h-35zM1589 469h29v5h-29z"/>
<path fill="#0000cf" d="M1583 190h35v6h-35zM1583 196h6v5h-6zM1612 196h12v5h-12zM1577 201h6v6h-6zM1618 201h6v6h-6zM1577 207h6v6h-6zM1618 207h6v6h-6zM1577 213h6v5h-6zM1618 213h6v5h-6zM1583 218h6v6h-6zM1618 218h6v6h-6zM1583 224h11v6h-11zM1606 224h12v6h-12zM1594 230h18v5h-18zM1512 247h11v5h-11zM1506 252h23v6h-23zM1506 258h29v6h-29zM1500 264h12v6h-12zM1523 264h18v6h-18zM1500 270h12v5h-12zM1529 270h12v5h-12zM1500 275h12v6h-12zM1529 275h12v6h-12zM1500 281h12v6h-12zM1529 281h12v6h-12zM1500 287h12v5h-12zM1529 287h12v5h-12zM1506 292h12v6h-12zM1523 292h18v6h-18zM1701 292h12v6h-12zM1506 298h35v6h-35zM1695 298h24v6h-24zM1512 304h23v5h-23zM1689 304h12v5h-12zM1707 304h12v5h-12zM1689 309h6v6h-6zM1713 309h12v6h-12zM1689 315h6v6h-6zM1713 315h12v6h-12zM1689 321h6v5h-6zM1719 321h6v5h-6zM1689 326h6v6h-6zM1719 326h6v6h-6zM1689 332h6v6h-6zM1713 332h12v6h-12zM1689 338h6v5h-6zM1713 338h12v5h-12zM1600 343h18v6h-18zM1689 343h12v6h-12zM1707 343h12v6h-12zM1594 349h30v6h-30zM1695 349h24v6h-24zM1594 355h12v6h-12zM1618 355h6v6h-6zM1701 355h6v6h-6zM1589 361h11v5h-11zM1618 361h12v5h-12zM1589 366h11v6h-11zM1618 366h12v6h-12zM1589 372h5v6h-5zM1618 372h12v6h-12zM1589 378h11v5h-11zM1618 378h6v5h-6zM1589 383h11v6h-11zM1612 383h12v6h-12zM1594 389h24v6h-24zM1594 395h24v5h-24zM1523 400h12v6h-12zM1541 406h6v6h-6zM1512 412h6v5h-6zM1512 417h6v6h-6zM1547 417h6v6h-6zM1571 417h18v6h-18zM1512 423h6v6h-6zM1571 423h23v6h-23zM1518 429h5v5h-5zM1535 429h6v5h-6zM1571 429h35v5h-35zM1577 434h41v6h-41zM1577 440h53v6h-53zM1577 446h12v5h-12zM1618 446h12v5h-12zM1571 451h18v6h-18zM1624 451h12v6h-12zM1571 457h12v6h-12zM1624 457h12v6h-12zM1571 463h18v6h-18zM1624 463h12v6h-12zM1577 469h12v5h-12zM1618 469h18v5h-18zM1577 474h53v6h-53zM1589 480h35v6h-35z"/>
<path fill="#0000df" d="M1583 179h35v5h-35zM1577 184h47v6h-47zM1577 190h6v6h-6zM1618 190h12v6h-12zM1571 196h12v5h-12zM1624 196h6v5h-6zM1571 201h6v6h-6zM1624 201h12v6h-12zM1571 207h6v6h-6zM1624 207h12v6h-12zM1571 213h6v5h-6zM1624 213h12v5h-12zM1571 218h12v6h-12zM1624 218h6v6h-6zM1577 224h6v6h-6zM1618 224h12v6h-12zM1583 230h11v5h-11zM1612 230h12v5h-12zM1506 235h23v6h-23zM1594 235h18v6h-18zM1500 241h35v6h-35zM1500 247h12v5h-12zM1523 247h18v5h-18zM1500 252h6v6h-6zM1529 252h12v6h-12zM1494 258h12v6h-12zM1535 258h12v6h-12zM1494 264h6v6h-6zM1541 264h6v6h-6zM1494 270h6v5h-6zM1541 270h6v5h-6zM1494 275h6v6h-6zM1541 275h6v6h-6zM1494 281h6v6h-6zM1541 281h6v6h-6zM1695 281h24v6h-24zM1494 287h6v5h-6zM1541 287h6v5h-6zM1689 287h36v5h-36zM1494 292h12v6h-12zM1541 292h6v6h-6zM1689 292h12v6h-12zM1713 292h12v6h-12zM1500 298h6v6h-6zM1541 298h6v6h-6zM1683 298h12v6h-12zM1719 298h12v6h-12zM1500 304h12v5h-12zM1535 304h12v5h-12zM1683 304h6v5h-6zM1719 304h12v5h-12zM1506 309h35v6h-35zM1683 309h6v6h-6zM1725 309h6v6h-6zM1512 315h29v6h-29zM1683 315h6v6h-6zM1725 315h6v6h-6zM1523 321h6v5h-6zM1683 321h6v5h-6zM1725 321h6v5h-6zM1683 326h6v6h-6zM1725 326h6v6h-6zM1683 332h6v6h-6zM1725 332h6v6h-6zM1594 338h24v5h-24zM1683 338h6v5h-6zM1725 338h6v5h-6zM1594 343h6v6h-6zM1618 343h6v6h-6zM1683 343h6v6h-6zM1719 343h12v6h-12zM1589 349h5v6h-5zM1624 349h6v6h-6zM1683 349h12v6h-12zM1719 349h6v6h-6zM1589 355h5v6h-5zM1624 355h12v6h-12zM1689 355h12v6h-12zM1707 355h18v6h-18zM1583 361h6v5h-6zM1630 361h6v5h-6zM1695 361h24v5h-24zM1583 366h6v6h-6zM1630 366h6v6h-6zM1583 372h6v6h-6zM1630 372h6v6h-6zM1583 378h6v5h-6zM1624 378h12v5h-12zM1447 383h11v6h-11zM1583 383h6v6h-6zM1624 383h6v6h-6zM1441 389h23v6h-23zM1583 389h11v6h-11zM1618 389h12v6h-12zM1441 395h23v5h-23zM1583 395h11v5h-11zM1618 395h6v5h-6zM1299 400h6v6h-6zM1441 400h23v6h-23zM1518 400h5v6h-5zM1535 400h6v6h-6zM1583 400h41v6h-41zM1447 406h11v6h-11zM1512 406h6v6h-6zM1547 406h6v6h-6zM1559 406h59v6h-59zM1547 412h65v5h-65zM1553 417h18v6h-18zM1589 417h23v6h-23zM1547 423h24v6h-24zM1594 423h24v6h-24zM1512 429h6v5h-6zM1541 429h30v5h-30zM1606 429h24v5h-24zM1523 434h18v6h-18zM1559 434h18v6h-18zM1618 434h18v6h-18zM1565 440h12v6h-12zM1630 440h12v6h-12zM1565 446h12v5h-12zM1630 446h18v5h-18zM1559 451h12v6h-12zM1636 451h12v6h-12zM1476 457h18v6h-18zM1559 457h12v6h-12zM1636 457h12v6h-12zM1476 463h18v6h-18zM1565 463h6v6h-6zM1636 463h12v6h-12zM1476 469h24v5h-24zM1565 469h12v5h-12zM1636 469h12v5h-12zM1476 474h24v6h-24zM1565 474h12v6h-12zM1630 474h12v6h-12zM1476 480h18v6h-18zM1571 480h18v6h-18zM1624 480h18v6h-18zM1482 486h6v5h-6zM1577 486h59v5h-59zM1594 491h30v6h-30z"/>
<path fill="#0000ff" d="M1512 179h47v5h-47zM1494 184h18v6h-18zM1559 184h6v6h-6zM1423 190h24v6h-24zM1482 190h12v6h-12zM1565 190h6v6h-6zM1411 196h65v5h-65zM1399 201h30v6h-30zM1447 201h11v6h-11zM1559 201h6v6h-6zM1393 207h18v6h-18zM1535 207h24v6h-24zM1387 213h18v5h-18zM1518 213h35v5h-35zM1387 218h12v6h-12zM1518 218h5v6h-5zM1381 224h12v6h-12zM1506 224h6v6h-6zM1547 224h12v6h-12zM1376 230h17v5h-17zM1500 230h6v5h-6zM1547 230h18v5h-18zM1376 235h11v6h-11zM1494 235h6v6h-6zM1547 235h36v6h-36zM1370 241h11v6h-11zM1488 241h6v6h-6zM1553 241h24v6h-24zM1583 241h11v6h-11zM1364 247h17v5h-17zM1488 247h6v5h-6zM1553 247h18v5h-18zM1594 247h48v5h-48zM1364 252h12v6h-12zM1482 252h6v6h-6zM1553 252h12v6h-12zM1600 252h48v6h-48zM1358 258h12v6h-12zM1482 258h6v6h-6zM1559 258h6v6h-6zM1606 258h48v6h-48zM1352 264h18v6h-18zM1482 264h6v6h-6zM1559 264h6v6h-6zM1606 264h54v6h-54zM1346 270h18v5h-18zM1482 270h6v5h-6zM1559 270h6v5h-6zM1606 270h60v5h-60zM1346 275h12v6h-12zM1482 275h6v6h-6zM1559 275h6v6h-6zM1606 275h65v6h-65zM1340 281h12v6h-12zM1476 281h12v6h-12zM1559 281h6v6h-6zM1606 281h65v6h-65zM1334 287h18v5h-18zM1482 287h6v5h-6zM1559 287h6v5h-6zM1606 287h65v5h-65zM1334 292h12v6h-12zM1482 292h6v6h-6zM1559 292h6v6h-6zM1606 292h65v6h-65zM1328 298h18v6h-18zM1482 298h6v6h-6zM1559 298h6v6h-6zM1612 298h59v6h-59zM1328 304h12v5h-12zM1482 304h12v5h-12zM1559 304h12v5h-12zM1630 304h41v5h-41zM1322 309h18v6h-18zM1482 309h12v6h-12zM1559 309h12v6h-12zM1642 309h29v6h-29zM1322 315h12v6h-12zM1482 315h12v6h-12zM1553 315h53v6h-53zM1648 315h23v6h-23zM1316 321h18v5h-18zM1482 321h18v5h-18zM1553 321h59v5h-59zM1648 321h23v5h-23zM1316 326h18v6h-18zM1482 326h24v6h-24zM1547 326h47v6h-47zM1606 326h12v6h-12zM1654 326h17v6h-17zM1316 332h12v6h-12zM1482 332h30v6h-30zM1541 332h12v6h-12zM1571 332h18v6h-18zM1618 332h12v6h-12zM1654 332h17v6h-17zM1310 338h18v5h-18zM1476 338h71v5h-71zM1571 338h12v5h-12zM1630 338h6v5h-6zM1654 338h17v5h-17zM1310 343h18v6h-18zM1476 343h65v6h-65zM1577 343h6v6h-6zM1636 343h41v6h-41zM1310 349h12v6h-12zM1470 349h71v6h-71zM1577 349h6v6h-6zM1642 349h35v6h-35zM1310 355h12v6h-12zM1458 355h83v6h-83zM1577 355h6v6h-6zM1642 355h35v6h-35zM1310 361h12v5h-12zM1429 361h6v5h-6zM1441 361h100v5h-100zM1642 361h41v5h-41zM1305 366h17v6h-17zM1429 366h112v6h-112zM1642 366h53v6h-53zM1310 372h12v6h-12zM1429 372h112v6h-112zM1642 372h29v6h-29zM1695 372h24v6h-24zM1310 378h12v5h-12zM1423 378h18v5h-18zM1470 378h71v5h-71zM1571 378h6v5h-6zM1642 378h24v5h-24zM1719 378h12v5h-12zM1316 383h6v6h-6zM1423 383h12v6h-12zM1476 383h71v6h-71zM1571 383h6v6h-6zM1642 383h18v6h-18zM1725 383h6v6h-6zM1316 389h6v6h-6zM1423 389h12v6h-12zM1476 389h77v6h-77zM1559 389h18v6h-18zM1642 389h18v6h-18zM1725 389h12v6h-12zM1316 395h6v5h-6zM1423 395h12v5h-12zM1476 395h42v5h-42zM1541 395h30v5h-30zM1636 395h24v5h-24zM1725 395h12v5h-12zM1316 400h6v6h-6zM1423 400h12v6h-12zM1476 400h36v6h-36zM1636 400h24v6h-24zM1725 400h12v6h-12zM1316 406h6v6h-6zM1423 406h12v6h-12zM1476 406h30v6h-30zM1630 406h30v6h-30zM1725 406h12v6h-12zM1316 412h6v5h-6zM1429 412h12v5h-12zM1470 412h36v5h-36zM1630 412h30v5h-30zM1725 412h6v5h-6zM1316 417h6v6h-6zM1429 417h18v6h-18zM1464 417h42v6h-42zM1636 417h30v6h-30zM1719 417h6v6h-6zM1310 423h12v6h-12zM1435 423h71v6h-71zM1642 423h29v6h-29zM1707 423h18v6h-18zM1310 429h12v5h-12zM1435 429h71v5h-71zM1654 429h29v5h-29zM1695 429h18v5h-18zM1310 434h12v6h-12zM1441 434h71v6h-71zM1660 434h47v6h-47zM1310 440h18v6h-18zM1441 440h82v6h-82zM1529 440h18v6h-18zM1660 440h47v6h-47zM1310 446h18v5h-18zM1447 446h35v5h-35zM1488 446h47v5h-47zM1547 446h6v5h-6zM1666 446h17v5h-17zM1689 446h18v5h-18zM1316 451h12v6h-12zM1452 451h18v6h-18zM1500 451h29v6h-29zM1547 451h6v6h-6zM1666 451h17v6h-17zM1689 451h18v6h-18zM1316 457h18v6h-18zM1452 457h18v6h-18zM1506 457h17v6h-17zM1666 457h17v6h-17zM1689 457h18v6h-18zM1316 463h18v6h-18zM1458 463h6v6h-6zM1506 463h17v6h-17zM1553 463h6v6h-6zM1666 463h41v6h-41zM1322 469h18v5h-18zM1458 469h12v5h-12zM1506 469h17v5h-17zM1553 469h6v5h-6zM1666 469h41v5h-41zM1328 474h12v6h-12zM1464 474h6v6h-6zM1506 474h17v6h-17zM1553 474h6v6h-6zM1671 474h30v6h-30zM1328 480h18v6h-18zM1464 480h6v6h-6zM1506 480h17v6h-17zM1553 480h6v6h-6zM1671 480h30v6h-30zM1334 486h18v5h-18zM1464 486h12v5h-12zM1500 486h23v5h-23zM1553 486h12v5h-12zM1677 486h18v5h-18zM1340 491h18v6h-18zM1470 491h6v6h-6zM1500 491h23v6h-23zM1559 491h12v6h-12zM1683 491h6v6h-6zM1340 497h18v6h-18zM1476 497h47v6h-47zM1559 497h30v6h-30zM1346 503h18v5h-18zM1476 503h42v5h-42zM1583 503h17v5h-17zM1352 508h18v6h-18zM1482 508h36v6h-36zM1600 508h12v6h-12zM1358 514h18v6h-18zM1482 514h30v6h-30zM1606 514h12v6h-12zM1358 520h18v5h-18zM1482 520h24v5h-24zM1612 520h12v5h-12zM1364 525h17v6h-17zM1618 525h6v6h-6zM1370 531h17v6h-17zM1624 531h6v6h-6zM1376 537h23v5h-23zM1624 537h6v5h-6zM1381 542h24v6h-24zM1618 542h6v6h-6zM1393 548h24v6h-24zM1553 548h18v6h-18zM1583 548h35v6h-35zM1399 554h30v6h-30zM1553 554h6v6h-6zM1565 554h24v6h-24zM1411 560h30v5h-30zM1464 560h12v5h-12zM1541 560h12v5h-12zM1429 565h124v6h-124zM1441 571h17v6h-17z"/>
<path fill="#0010ff" d="M1512 184h47v6h-47zM1494 190h12v6h-12zM1553 190h12v6h-12zM1476 196h6v5h-6zM1559 196h6v5h-6zM1429 201h18v6h-18zM1458 201h12v6h-12zM1541 201h18v6h-18zM1411 207h41v6h-41zM1518 207h17v6h-17zM1405 213h12v5h-12zM1399 218h12v6h-12zM1512 218h6v6h-6zM1393 224h12v6h-12zM1393 230h6v5h-6zM1494 230h6v5h-6zM1387 235h12v6h-12zM1488 235h6v6h-6zM1381 241h12v6h-12zM1482 241h6v6h-6zM1577 241h6v6h-6zM1381 247h6v5h-6zM1482 247h6v5h-6zM1571 247h12v5h-12zM1589 247h5v5h-5zM1376 252h11v6h-11zM1476 252h6v6h-6zM1565 252h6v6h-6zM1594 252h6v6h-6zM1370 258h11v6h-11zM1476 258h6v6h-6zM1565 258h6v6h-6zM1600 258h6v6h-6zM1370 264h6v6h-6zM1476 264h6v6h-6zM1565 264h6v6h-6zM1600 264h6v6h-6zM1364 270h12v5h-12zM1476 270h6v5h-6zM1565 270h6v5h-6zM1600 270h6v5h-6zM1358 275h12v6h-12zM1470 275h12v6h-12zM1565 275h6v6h-6zM1600 275h6v6h-6zM1352 281h12v6h-12zM1470 281h6v6h-6zM1565 281h6v6h-6zM1600 281h6v6h-6zM1352 287h12v5h-12zM1476 287h6v5h-6zM1565 287h6v5h-6zM1600 287h6v5h-6zM1346 292h12v6h-12zM1476 292h6v6h-6zM1565 292h6v6h-6zM1600 292h6v6h-6zM1346 298h6v6h-6zM1476 298h6v6h-6zM1565 298h12v6h-12zM1594 298h18v6h-18zM1340 304h12v5h-12zM1476 304h6v5h-6zM1571 304h12v5h-12zM1589 304h41v5h-41zM1340 309h6v6h-6zM1476 309h6v6h-6zM1571 309h71v6h-71zM1334 315h12v6h-12zM1476 315h6v6h-6zM1606 315h18v6h-18zM1630 315h18v6h-18zM1334 321h12v5h-12zM1476 321h6v5h-6zM1612 321h18v5h-18zM1636 321h12v5h-12zM1334 326h6v6h-6zM1476 326h6v6h-6zM1618 326h36v6h-36zM1328 332h12v6h-12zM1470 332h12v6h-12zM1553 332h18v6h-18zM1630 332h24v6h-24zM1328 338h12v5h-12zM1470 338h6v5h-6zM1547 338h6v5h-6zM1565 338h6v5h-6zM1636 338h18v5h-18zM1328 343h6v6h-6zM1464 343h12v6h-12zM1541 343h6v6h-6zM1571 343h6v6h-6zM1322 349h12v6h-12zM1417 349h6v6h-6zM1452 349h18v6h-18zM1541 349h6v6h-6zM1571 349h6v6h-6zM1322 355h12v6h-12zM1417 355h41v6h-41zM1541 355h6v6h-6zM1571 355h6v6h-6zM1322 361h12v5h-12zM1417 361h12v5h-12zM1435 361h6v5h-6zM1541 361h6v5h-6zM1571 361h6v5h-6zM1322 366h12v6h-12zM1417 366h12v6h-12zM1541 366h6v6h-6zM1571 366h6v6h-6zM1322 372h12v6h-12zM1417 372h12v6h-12zM1541 372h6v6h-6zM1571 372h6v6h-6zM1671 372h24v6h-24zM1322 378h6v5h-6zM1417 378h6v5h-6zM1541 378h12v5h-12zM1565 378h6v5h-6zM1666 378h11v5h-11zM1707 378h12v5h-12zM1322 383h6v6h-6zM1417 383h6v6h-6zM1547 383h24v6h-24zM1660 383h11v6h-11zM1713 383h12v6h-12zM1322 389h6v6h-6zM1417 389h6v6h-6zM1553 389h6v6h-6zM1660 389h6v6h-6zM1719 389h6v6h-6zM1322 395h6v5h-6zM1417 395h6v5h-6zM1660 395h6v5h-6zM1719 395h6v5h-6zM1322 400h6v6h-6zM1417 400h6v6h-6zM1660 400h6v6h-6zM1719 400h6v6h-6zM1322 406h12v6h-12zM1417 406h6v6h-6zM1660 406h6v6h-6zM1719 406h6v6h-6zM1322 412h12v5h-12zM1417 412h12v5h-12zM1660 412h11v5h-11zM1713 412h12v5h-12zM1322 417h12v6h-12zM1417 417h12v6h-12zM1666 417h11v6h-11zM1707 417h12v6h-12zM1322 423h12v6h-12zM1423 423h12v6h-12zM1671 423h36v6h-36zM1322 429h12v5h-12zM1423 429h12v5h-12zM1683 429h12v5h-12zM1322 434h12v6h-12zM1429 434h12v6h-12zM1328 440h6v6h-6zM1435 440h6v6h-6zM1328 446h12v5h-12zM1435 446h12v5h-12zM1535 446h12v5h-12zM1683 446h6v5h-6zM1328 451h12v6h-12zM1441 451h11v6h-11zM1529 451h6v6h-6zM1683 451h6v6h-6zM1334 457h12v6h-12zM1447 457h5v6h-5zM1523 457h6v6h-6zM1547 457h6v6h-6zM1683 457h6v6h-6zM1334 463h12v6h-12zM1447 463h11v6h-11zM1523 463h6v6h-6zM1340 469h12v5h-12zM1452 469h6v5h-6zM1523 469h6v5h-6zM1340 474h12v6h-12zM1452 474h12v6h-12zM1523 474h6v6h-6zM1346 480h12v6h-12zM1458 480h6v6h-6zM1523 480h6v6h-6zM1352 486h12v5h-12zM1458 486h6v5h-6zM1523 486h6v5h-6zM1358 491h12v6h-12zM1464 491h6v6h-6zM1523 491h6v6h-6zM1553 491h6v6h-6zM1358 497h12v6h-12zM1464 497h12v6h-12zM1523 497h6v6h-6zM1553 497h6v6h-6zM1364 503h12v5h-12zM1470 503h6v5h-6zM1518 503h11v5h-11zM1559 503h24v5h-24zM1370 508h11v6h-11zM1470 508h12v6h-12zM1518 508h11v6h-11zM1589 508h11v6h-11zM1376 514h11v6h-11zM1476 514h6v6h-6zM1512 514h11v6h-11zM1600 514h6v6h-6zM1376 520h17v5h-17zM1476 520h6v5h-6zM1506 520h12v5h-12zM1606 520h6v5h-6zM1381 525h18v6h-18zM1482 525h30v6h-30zM1612 525h6v6h-6zM1387 531h18v6h-18zM1612 531h12v6h-12zM1399 537h12v5h-12zM1612 537h12v5h-12zM1405 542h18v6h-18zM1559 542h6v6h-6zM1577 542h41v6h-41zM1417 548h18v6h-18zM1571 548h12v6h-12zM1429 554h18v6h-18zM1458 554h12v6h-12zM1535 554h18v6h-18zM1441 560h23v5h-23zM1476 560h65v5h-65z"/>
<path fill="#0020ff" d="M1506 190h47v6h-47zM1482 196h12v5h-12zM1518 196h41v5h-41zM1470 201h6v6h-6zM1518 201h23v6h-23zM1452 207h6v6h-6zM1512 207h6v6h-6zM1417 213h30v5h-30zM1512 213h6v5h-6zM1411 218h12v6h-12zM1506 218h6v6h-6zM1405 224h12v6h-12zM1500 224h6v6h-6zM1399 230h12v5h-12zM1399 235h6v6h-6zM1482 235h6v6h-6zM1393 241h6v6h-6zM1476 241h6v6h-6zM1387 247h12v5h-12zM1470 247h12v5h-12zM1583 247h6v5h-6zM1387 252h6v6h-6zM1470 252h6v6h-6zM1571 252h23v6h-23zM1381 258h6v6h-6zM1470 258h6v6h-6zM1571 258h6v6h-6zM1594 258h6v6h-6zM1376 264h11v6h-11zM1470 264h6v6h-6zM1571 264h6v6h-6zM1594 264h6v6h-6zM1376 270h5v5h-5zM1464 270h12v5h-12zM1594 270h6v5h-6zM1370 275h6v6h-6zM1464 275h6v6h-6zM1594 275h6v6h-6zM1364 281h12v6h-12zM1464 281h6v6h-6zM1594 281h6v6h-6zM1364 287h6v5h-6zM1470 287h6v5h-6zM1571 287h6v5h-6zM1594 287h6v5h-6zM1358 292h12v6h-12zM1470 292h6v6h-6zM1571 292h6v6h-6zM1594 292h6v6h-6zM1352 298h12v6h-12zM1470 298h6v6h-6zM1577 298h17v6h-17zM1352 304h6v5h-6zM1470 304h6v5h-6zM1583 304h6v5h-6zM1346 309h12v6h-12zM1470 309h6v6h-6zM1346 315h6v6h-6zM1470 315h6v6h-6zM1624 315h6v6h-6zM1346 321h6v5h-6zM1470 321h6v5h-6zM1630 321h6v5h-6zM1340 326h12v6h-12zM1470 326h6v6h-6zM1340 332h6v6h-6zM1464 332h6v6h-6zM1340 338h6v5h-6zM1458 338h12v5h-12zM1553 338h12v5h-12zM1334 343h12v6h-12zM1411 343h12v6h-12zM1452 343h12v6h-12zM1547 343h6v6h-6zM1565 343h6v6h-6zM1334 349h12v6h-12zM1411 349h6v6h-6zM1423 349h29v6h-29zM1547 349h6v6h-6zM1334 355h12v6h-12zM1411 355h6v6h-6zM1334 361h6v5h-6zM1411 361h6v5h-6zM1334 366h6v6h-6zM1411 366h6v6h-6zM1334 372h6v6h-6zM1411 372h6v6h-6zM1547 372h6v6h-6zM1565 372h6v6h-6zM1328 378h12v5h-12zM1411 378h6v5h-6zM1553 378h12v5h-12zM1677 378h30v5h-30zM1328 383h12v6h-12zM1411 383h6v6h-6zM1671 383h6v6h-6zM1707 383h6v6h-6zM1328 389h12v6h-12zM1411 389h6v6h-6zM1666 389h5v6h-5zM1713 389h6v6h-6zM1328 395h12v5h-12zM1411 395h6v5h-6zM1666 395h5v5h-5zM1328 400h12v6h-12zM1411 400h6v6h-6zM1666 400h5v6h-5zM1334 406h6v6h-6zM1411 406h6v6h-6zM1666 406h5v6h-5zM1713 406h6v6h-6zM1334 412h6v5h-6zM1411 412h6v5h-6zM1671 412h6v5h-6zM1707 412h6v5h-6zM1334 417h6v6h-6zM1411 417h6v6h-6zM1677 417h30v6h-30zM1334 423h6v6h-6zM1417 423h6v6h-6zM1334 429h12v5h-12zM1417 429h6v5h-6zM1334 434h12v6h-12zM1423 434h6v6h-6zM1334 440h12v6h-12zM1423 440h12v6h-12zM1340 446h12v5h-12zM1429 446h6v5h-6zM1340 451h12v6h-12zM1435 451h6v6h-6zM1535 451h12v6h-12zM1346 457h12v6h-12zM1435 457h12v6h-12zM1529 457h6v6h-6zM1346 463h12v6h-12zM1441 463h6v6h-6zM1547 463h6v6h-6zM1352 469h12v5h-12zM1447 469h5v5h-5zM1547 469h6v5h-6zM1352 474h12v6h-12zM1447 474h5v6h-5zM1547 474h6v6h-6zM1358 480h12v6h-12zM1452 480h6v6h-6zM1547 480h6v6h-6zM1364 486h12v5h-12zM1452 486h6v5h-6zM1547 486h6v5h-6zM1370 491h6v6h-6zM1458 491h6v6h-6zM1529 491h6v6h-6zM1547 491h6v6h-6zM1370 497h11v6h-11zM1458 497h6v6h-6zM1529 497h24v6h-24zM1376 503h11v5h-11zM1464 503h6v5h-6zM1529 503h30v5h-30zM1381 508h12v6h-12zM1464 508h6v6h-6zM1529 508h6v6h-6zM1553 508h36v6h-36zM1387 514h12v6h-12zM1470 514h6v6h-6zM1523 514h12v6h-12zM1589 514h11v6h-11zM1393 520h12v5h-12zM1470 520h6v5h-6zM1518 520h11v5h-11zM1600 520h6v5h-6zM1399 525h12v6h-12zM1476 525h6v6h-6zM1512 525h11v6h-11zM1600 525h12v6h-12zM1405 531h12v6h-12zM1488 531h30v6h-30zM1600 531h12v6h-12zM1411 537h18v5h-18zM1553 537h59v5h-59zM1423 542h18v6h-18zM1541 542h18v6h-18zM1565 542h12v6h-12zM1435 548h29v6h-29zM1523 548h30v6h-30zM1447 554h11v6h-11zM1470 554h65v6h-65z"/>
<path fill="#0030ff" d="M1494 196h24v5h-24zM1476 201h6v6h-6zM1512 201h6v6h-6zM1458 207h6v6h-6zM1447 213h5v5h-5zM1423 218h18v6h-18zM1417 224h12v6h-12zM1411 230h6v5h-6zM1488 230h6v5h-6zM1405 235h12v6h-12zM1399 241h12v6h-12zM1470 241h6v6h-6zM1399 247h6v5h-6zM1464 247h6v5h-6zM1393 252h12v6h-12zM1464 252h6v6h-6zM1387 258h12v6h-12zM1464 258h6v6h-6zM1577 258h17v6h-17zM1387 264h6v6h-6zM1464 264h6v6h-6zM1577 264h6v6h-6zM1589 264h5v6h-5zM1381 270h12v5h-12zM1458 270h6v5h-6zM1571 270h6v5h-6zM1589 270h5v5h-5zM1376 275h11v6h-11zM1458 275h6v6h-6zM1571 275h6v6h-6zM1589 275h5v6h-5zM1376 281h5v6h-5zM1571 281h6v6h-6zM1589 281h5v6h-5zM1370 287h11v5h-11zM1464 287h6v5h-6zM1577 287h6v5h-6zM1589 287h5v5h-5zM1464 292h6v6h-6zM1577 292h17v6h-17zM1352 315h6v6h-6zM1464 321h6v5h-6zM1464 326h6v6h-6zM1346 332h6v6h-6zM1405 332h6v6h-6zM1458 332h6v6h-6zM1405 338h18v5h-18zM1452 338h6v5h-6zM1405 343h6v6h-6zM1423 343h29v6h-29zM1553 343h12v6h-12zM1405 349h6v6h-6zM1565 349h6v6h-6zM1405 355h6v6h-6zM1547 355h6v6h-6zM1565 355h6v6h-6zM1340 361h6v5h-6zM1405 361h6v5h-6zM1547 361h6v5h-6zM1565 361h6v5h-6zM1340 366h6v6h-6zM1405 366h6v6h-6zM1547 366h6v6h-6zM1565 366h6v6h-6zM1405 372h6v6h-6zM1553 372h12v6h-12zM1405 378h6v5h-6zM1405 383h6v6h-6zM1677 383h30v6h-30zM1405 389h6v6h-6zM1671 389h6v6h-6zM1707 389h6v6h-6zM1405 395h6v5h-6zM1671 395h6v5h-6zM1713 395h6v5h-6zM1405 400h6v6h-6zM1671 400h6v6h-6zM1713 400h6v6h-6zM1405 406h6v6h-6zM1671 406h12v6h-12zM1707 406h6v6h-6zM1405 412h6v5h-6zM1677 412h30v5h-30zM1405 417h6v6h-6zM1340 423h6v6h-6zM1411 423h6v6h-6zM1411 429h6v5h-6zM1417 434h6v6h-6zM1346 440h6v6h-6zM1417 440h6v6h-6zM1423 446h6v5h-6zM1352 451h6v6h-6zM1429 451h6v6h-6zM1429 457h6v6h-6zM1535 457h12v6h-12zM1358 463h6v6h-6zM1435 463h6v6h-6zM1529 463h6v6h-6zM1541 463h6v6h-6zM1364 469h6v5h-6zM1441 469h6v5h-6zM1529 469h6v5h-6zM1364 474h12v6h-12zM1441 474h6v6h-6zM1529 474h6v6h-6zM1370 480h11v6h-11zM1447 480h5v6h-5zM1529 480h6v6h-6zM1376 486h11v5h-11zM1447 486h5v5h-5zM1529 486h6v5h-6zM1541 486h6v5h-6zM1376 491h11v6h-11zM1452 491h6v6h-6zM1535 491h12v6h-12zM1381 497h12v6h-12zM1387 503h12v5h-12zM1458 503h6v5h-6zM1393 508h12v6h-12zM1535 508h18v6h-18zM1399 514h12v6h-12zM1535 514h54v6h-54zM1405 520h12v5h-12zM1529 520h71v5h-71zM1411 525h18v6h-18zM1470 525h6v6h-6zM1523 525h77v6h-77zM1417 531h18v6h-18zM1482 531h6v6h-6zM1518 531h82v6h-82zM1429 537h18v5h-18zM1488 537h65v5h-65zM1441 542h11v6h-11zM1494 542h47v6h-47zM1464 548h6v6h-6zM1488 548h35v6h-35z"/>
<path fill="#0040ff" d="M1482 201h6v6h-6zM1506 201h6v6h-6zM1464 207h6v6h-6zM1452 213h6v5h-6zM1506 213h6v5h-6zM1441 218h6v6h-6zM1500 218h6v6h-6zM1429 224h6v6h-6zM1494 224h6v6h-6zM1417 230h12v5h-12zM1417 235h6v6h-6zM1476 235h6v6h-6zM1411 241h6v6h-6zM1405 247h12v5h-12zM1405 252h6v6h-6zM1458 252h6v6h-6zM1399 258h6v6h-6zM1458 258h6v6h-6zM1393 264h12v6h-12zM1452 264h12v6h-12zM1583 264h6v6h-6zM1393 270h12v5h-12zM1447 270h11v5h-11zM1577 270h12v5h-12zM1387 275h12v6h-12zM1452 275h6v6h-6zM1577 275h12v6h-12zM1381 281h12v6h-12zM1458 281h6v6h-6zM1577 281h12v6h-12zM1381 287h12v5h-12zM1458 287h6v5h-6zM1583 287h6v5h-6zM1464 298h6v6h-6zM1358 304h6v5h-6zM1464 304h6v5h-6zM1464 309h6v6h-6zM1464 315h6v6h-6zM1405 321h6v5h-6zM1458 321h6v5h-6zM1405 326h6v6h-6zM1458 326h6v6h-6zM1411 332h12v6h-12zM1452 332h6v6h-6zM1346 338h6v5h-6zM1423 338h29v5h-29zM1399 349h6v6h-6zM1553 349h12v6h-12zM1399 355h6v6h-6zM1553 355h12v6h-12zM1399 361h6v5h-6zM1553 361h12v5h-12zM1399 366h6v6h-6zM1553 366h12v6h-12zM1340 372h6v6h-6zM1399 372h6v6h-6zM1340 378h6v5h-6zM1399 378h6v5h-6zM1340 383h6v6h-6zM1399 383h6v6h-6zM1399 389h6v6h-6zM1677 389h30v6h-30zM1399 395h6v5h-6zM1677 395h6v5h-6zM1701 395h12v5h-12zM1399 400h6v6h-6zM1677 400h12v6h-12zM1701 400h12v6h-12zM1399 406h6v6h-6zM1683 406h24v6h-24zM1340 412h6v5h-6zM1340 417h6v6h-6zM1405 423h6v6h-6zM1411 434h6v6h-6zM1417 446h6v5h-6zM1423 451h6v6h-6zM1358 457h6v6h-6zM1535 463h6v6h-6zM1435 469h6v5h-6zM1535 469h12v5h-12zM1535 474h12v6h-12zM1535 480h12v6h-12zM1535 486h6v5h-6zM1387 491h6v6h-6zM1411 514h6v6h-6zM1464 514h6v6h-6zM1417 520h6v5h-6zM1476 531h6v6h-6zM1482 537h6v5h-6zM1452 542h6v6h-6zM1482 542h12v6h-12zM1470 548h18v6h-18z"/>
<path fill="#0050ff" d="M1488 201h18v6h-18zM1470 207h6v6h-6zM1506 207h6v6h-6zM1458 213h6v5h-6zM1500 213h6v5h-6zM1447 218h5v6h-5zM1435 224h6v6h-6zM1482 230h6v5h-6zM1417 241h6v6h-6zM1464 241h6v6h-6zM1405 258h6v6h-6zM1452 258h6v6h-6zM1447 264h5v6h-5zM1399 275h6v6h-6zM1441 275h11v6h-11zM1393 281h12v6h-12zM1452 281h6v6h-6zM1393 287h12v5h-12zM1452 287h6v5h-6zM1399 292h12v6h-12zM1458 292h6v6h-6zM1458 298h6v6h-6zM1458 304h6v5h-6zM1405 309h6v6h-6zM1458 309h6v6h-6zM1405 315h6v6h-6zM1458 315h6v6h-6zM1352 321h6v5h-6zM1411 321h6v5h-6zM1411 326h12v6h-12zM1452 326h6v6h-6zM1423 332h29v6h-29zM1346 343h6v6h-6zM1399 343h6v6h-6zM1346 349h6v6h-6zM1340 389h6v6h-6zM1340 395h6v5h-6zM1683 395h18v5h-18zM1340 400h6v6h-6zM1689 400h12v6h-12zM1340 406h6v6h-6zM1399 412h6v5h-6zM1346 434h6v6h-6zM1352 446h6v5h-6zM1364 463h6v6h-6zM1429 463h6v6h-6zM1370 469h6v5h-6zM1441 480h6v6h-6zM1393 497h6v6h-6zM1399 503h6v5h-6zM1405 508h6v6h-6zM1435 531h6v6h-6zM1470 531h6v6h-6zM1476 537h6v5h-6zM1458 542h6v6h-6zM1470 542h12v6h-12z"/>
<path fill="#0060ff" d="M1476 207h6v6h-6zM1494 207h12v6h-12zM1494 218h6v6h-6zM1441 224h6v6h-6zM1488 224h6v6h-6zM1429 230h6v5h-6zM1476 230h6v5h-6zM1423 235h6v6h-6zM1470 235h6v6h-6zM1458 247h6v5h-6zM1411 252h6v6h-6zM1452 252h6v6h-6zM1405 264h6v6h-6zM1441 270h6v5h-6zM1441 281h11v6h-11zM1405 287h6v5h-6zM1447 287h5v5h-5zM1411 292h6v6h-6zM1452 292h6v6h-6zM1364 298h6v6h-6zM1405 298h6v6h-6zM1452 298h6v6h-6zM1405 304h6v5h-6zM1452 304h6v5h-6zM1358 309h6v6h-6zM1411 309h6v6h-6zM1452 309h6v6h-6zM1411 315h6v6h-6zM1452 315h6v6h-6zM1417 321h6v5h-6zM1447 321h11v5h-11zM1352 326h6v6h-6zM1423 326h29v6h-29zM1399 338h6v5h-6zM1346 355h6v6h-6zM1346 429h6v5h-6zM1405 429h6v5h-6zM1411 440h6v6h-6zM1376 474h5v6h-5zM1452 497h6v6h-6zM1429 525h6v6h-6zM1447 537h5v5h-5zM1470 537h6v5h-6zM1464 542h6v6h-6z"/>
<path fill="#0070ff" d="M1482 207h12v6h-12zM1464 213h12v5h-12zM1494 213h6v5h-6zM1452 218h6v6h-6zM1488 218h6v6h-6zM1482 224h6v6h-6zM1435 230h6v5h-6zM1464 235h6v6h-6zM1458 241h6v6h-6zM1417 247h6v5h-6zM1411 258h6v6h-6zM1447 258h5v6h-5zM1405 270h6v5h-6zM1405 275h6v6h-6zM1435 275h6v6h-6zM1405 281h6v6h-6zM1429 281h12v6h-12zM1423 287h24v5h-24zM1370 292h6v6h-6zM1417 292h12v6h-12zM1441 292h11v6h-11zM1411 298h12v6h-12zM1447 298h5v6h-5zM1411 304h12v5h-12zM1447 304h5v5h-5zM1417 309h6v6h-6zM1447 309h5v6h-5zM1417 315h35v6h-35zM1423 321h24v5h-24zM1399 332h6v6h-6zM1346 361h6v5h-6zM1346 366h6v6h-6zM1399 417h6v6h-6zM1346 423h6v6h-6zM1352 440h6v6h-6zM1358 451h6v6h-6zM1423 457h6v6h-6zM1381 480h6v6h-6zM1423 520h6v5h-6zM1464 520h6v5h-6zM1464 537h6v5h-6z"/>
<path fill="#0080ff" d="M1476 213h18v5h-18zM1458 218h30v6h-30zM1447 224h11v6h-11zM1476 224h6v6h-6zM1464 230h12v5h-12zM1429 235h6v6h-6zM1423 241h6v6h-6zM1452 247h6v5h-6zM1417 252h6v6h-6zM1411 264h6v6h-6zM1441 264h6v6h-6zM1411 270h6v5h-6zM1435 270h6v5h-6zM1429 275h6v6h-6zM1423 281h6v6h-6zM1411 287h12v5h-12zM1429 292h12v6h-12zM1399 298h6v6h-6zM1423 298h24v6h-24zM1423 304h24v5h-24zM1423 309h24v6h-24zM1358 315h6v6h-6zM1399 326h6v6h-6zM1352 332h6v6h-6zM1352 338h6v5h-6zM1346 372h6v6h-6zM1346 378h6v5h-6zM1346 383h6v6h-6zM1346 417h6v6h-6zM1364 457h6v6h-6zM1435 474h6v6h-6zM1387 486h6v5h-6zM1393 491h6v6h-6zM1411 508h6v6h-6zM1417 514h6v6h-6zM1441 531h6v6h-6zM1452 537h6v5h-6z"/>
<path fill="#008fff" d="M1458 224h18v6h-18zM1441 230h23v5h-23zM1435 235h6v6h-6zM1452 235h12v6h-12zM1452 241h6v6h-6zM1423 247h6v5h-6zM1447 252h5v6h-5zM1417 258h6v6h-6zM1441 258h6v6h-6zM1417 264h6v6h-6zM1435 264h6v6h-6zM1417 270h6v5h-6zM1429 270h6v5h-6zM1411 275h18v6h-18zM1411 281h12v6h-12zM1364 304h6v5h-6zM1399 321h6v5h-6zM1352 343h6v6h-6zM1346 389h6v6h-6zM1346 395h6v5h-6zM1346 400h6v6h-6zM1346 406h6v6h-6zM1346 412h6v5h-6zM1352 434h6v6h-6zM1358 446h6v5h-6zM1417 451h6v6h-6zM1370 463h6v6h-6zM1376 469h5v5h-5zM1447 491h5v6h-5zM1399 497h6v6h-6zM1405 503h6v5h-6zM1458 508h6v6h-6zM1464 525h6v6h-6zM1464 531h6v6h-6zM1458 537h6v5h-6z"/>
<path fill="#009fff" d="M1441 235h11v6h-11zM1429 241h12v6h-12zM1447 241h5v6h-5zM1429 247h6v5h-6zM1447 247h5v5h-5zM1423 252h6v6h-6zM1441 252h6v6h-6zM1423 258h6v6h-6zM1435 258h6v6h-6zM1423 264h12v6h-12zM1423 270h6v5h-6zM1399 304h6v5h-6zM1399 309h6v6h-6zM1399 315h6v6h-6zM1358 321h6v5h-6zM1352 349h6v6h-6zM1352 355h6v6h-6zM1405 434h6v6h-6zM1429 469h6v5h-6zM1381 474h6v6h-6zM1435 525h6v6h-6z"/>
<path fill="#00afff" d="M1441 241h6v6h-6zM1435 247h12v5h-12zM1429 252h12v6h-12zM1429 258h6v6h-6zM1358 326h6v6h-6zM1352 361h6v5h-6zM1393 361h6v5h-6zM1352 366h6v6h-6zM1393 366h6v6h-6zM1352 372h6v6h-6zM1393 372h6v6h-6zM1393 378h6v5h-6zM1393 383h6v6h-6zM1393 389h6v6h-6zM1393 395h6v5h-6zM1399 423h6v6h-6zM1352 429h6v5h-6zM1358 440h6v6h-6zM1411 446h6v5h-6zM1364 451h6v6h-6zM1423 463h6v6h-6zM1387 480h6v6h-6zM1423 514h6v6h-6zM1429 520h6v5h-6zM1447 531h5v6h-5z"/>
<path fill="#00bfff" d="M1370 298h6v6h-6zM1364 309h6v6h-6zM1358 332h6v6h-6zM1393 349h6v6h-6zM1393 355h6v6h-6zM1352 378h6v5h-6zM1352 383h6v6h-6zM1352 389h6v6h-6zM1393 400h6v6h-6zM1352 417h6v6h-6zM1352 423h6v6h-6zM1405 440h6v6h-6zM1370 457h6v6h-6zM1417 457h6v6h-6zM1376 463h5v6h-5zM1435 480h6v6h-6zM1393 486h6v5h-6zM1441 486h6v5h-6zM1399 491h6v6h-6zM1411 503h6v5h-6zM1417 508h6v6h-6zM1452 531h12v6h-12z"/>
<path fill="#00cfff" d="M1376 292h5v6h-5zM1364 315h6v6h-6zM1358 338h6v5h-6zM1358 343h6v6h-6zM1393 343h6v6h-6zM1358 349h6v6h-6zM1352 395h6v5h-6zM1352 400h6v6h-6zM1352 406h6v6h-6zM1393 406h6v6h-6zM1352 412h6v5h-6zM1393 412h6v5h-6zM1399 429h6v5h-6zM1358 434h6v6h-6zM1364 446h6v5h-6zM1411 451h6v6h-6zM1381 469h6v5h-6zM1429 474h6v6h-6zM1405 497h6v6h-6zM1452 503h6v5h-6zM1458 514h6v6h-6zM1441 525h6v6h-6zM1458 525h6v6h-6z"/>
<path fill="#00dfff" d="M1393 292h6v6h-6zM1370 304h6v5h-6zM1393 338h6v5h-6zM1358 355h6v6h-6zM1358 361h6v5h-6zM1387 361h6v5h-6zM1358 366h6v6h-6zM1387 366h6v6h-6zM1358 372h6v6h-6zM1387 372h6v6h-6zM1358 378h6v5h-6zM1387 378h6v5h-6zM1358 383h6v6h-6zM1387 383h6v6h-6zM1358 389h6v6h-6zM1387 389h6v6h-6zM1387 395h6v5h-6zM1393 417h6v6h-6zM1358 429h6v5h-6zM1399 434h6v6h-6zM1370 451h6v6h-6zM1423 469h6v5h-6zM1447 497h5v6h-5zM1429 514h6v6h-6zM1435 520h6v5h-6zM1458 520h6v5h-6zM1447 525h11v6h-11z"/>
<path fill="#00efff" d="M1393 298h6v6h-6zM1364 321h6v5h-6zM1364 326h6v6h-6zM1393 326h6v6h-6zM1393 332h6v6h-6zM1364 349h6v6h-6zM1387 349h6v6h-6zM1364 355h6v6h-6zM1387 355h6v6h-6zM1364 361h6v5h-6zM1381 361h6v5h-6zM1364 366h23v6h-23zM1364 372h23v6h-23zM1364 378h23v5h-23zM1364 383h23v6h-23zM1364 389h6v6h-6zM1381 389h6v6h-6zM1358 395h6v5h-6zM1358 400h6v6h-6zM1387 400h6v6h-6zM1358 406h6v6h-6zM1387 406h6v6h-6zM1358 412h6v5h-6zM1358 417h6v6h-6zM1358 423h6v6h-6zM1393 423h6v6h-6zM1364 440h6v6h-6zM1370 446h6v5h-6zM1405 446h6v5h-6zM1376 457h5v6h-5zM1417 463h6v6h-6zM1423 508h6v6h-6zM1452 508h6v6h-6zM1441 520h6v5h-6zM1452 520h6v5h-6z"/>
<path fill="#00ffff" d="M1376 298h5v6h-5zM1393 304h6v5h-6zM1370 309h6v6h-6zM1393 309h6v6h-6zM1393 315h6v6h-6zM1393 321h6v5h-6zM1364 332h6v6h-6zM1364 338h6v5h-6zM1364 343h6v6h-6zM1387 343h6v6h-6zM1370 349h17v6h-17zM1370 355h17v6h-17zM1370 361h11v5h-11zM1370 389h11v6h-11zM1364 395h23v5h-23zM1364 400h23v6h-23zM1364 406h12v6h-12zM1381 406h6v6h-6zM1364 412h6v5h-6zM1387 412h6v5h-6zM1364 417h6v6h-6zM1387 417h6v6h-6zM1364 423h6v6h-6zM1364 429h6v5h-6zM1393 429h6v5h-6zM1364 434h6v6h-6zM1370 440h6v6h-6zM1399 440h6v6h-6zM1376 451h5v6h-5zM1381 463h6v6h-6zM1387 474h6v6h-6zM1441 491h6v6h-6zM1417 503h6v5h-6zM1452 514h6v6h-6z"/>
<path fill="#10ffef" d="M1381 292h12v6h-12zM1381 298h12v6h-12zM1376 304h5v5h-5zM1370 315h6v6h-6zM1370 321h6v5h-6zM1370 326h6v6h-6zM1387 326h6v6h-6zM1370 332h6v6h-6zM1387 332h6v6h-6zM1370 338h23v5h-23zM1370 343h17v6h-17zM1376 406h5v6h-5zM1370 412h17v5h-17zM1370 417h17v6h-17zM1370 423h23v6h-23zM1370 429h23v5h-23zM1370 434h17v6h-17zM1393 434h6v6h-6zM1376 440h5v6h-5zM1376 446h5v5h-5zM1393 480h6v6h-6zM1429 480h6v6h-6zM1435 486h6v5h-6zM1411 497h6v6h-6zM1447 503h5v5h-5zM1435 514h6v6h-6zM1447 520h5v5h-5z"/>
<path fill="#20ffdf" d="M1387 315h6v6h-6zM1387 321h6v5h-6zM1376 332h11v6h-11zM1387 434h6v6h-6zM1381 440h6v6h-6zM1381 446h6v5h-6zM1381 451h6v6h-6zM1381 457h6v6h-6zM1411 457h6v6h-6zM1423 474h6v6h-6zM1399 486h6v5h-6zM1405 491h6v6h-6zM1429 508h6v6h-6zM1447 508h5v6h-5zM1441 514h11v6h-11z"/>
<path fill="#30ffcf" d="M1387 304h6v5h-6zM1376 309h5v6h-5zM1387 309h6v6h-6zM1376 326h5v6h-5zM1441 497h6v6h-6z"/>
<path fill="#40ffbf" d="M1376 315h5v6h-5zM1376 321h5v5h-5zM1381 326h6v6h-6zM1405 451h6v6h-6zM1417 469h6v5h-6zM1435 491h6v6h-6zM1417 497h6v6h-6zM1423 503h6v5h-6zM1441 503h6v5h-6zM1435 508h12v6h-12z"/>
<path fill="#50ffaf" d="M1381 304h6v5h-6zM1381 321h6v5h-6zM1387 440h12v6h-12zM1399 446h6v5h-6zM1411 463h6v6h-6zM1387 469h6v5h-6zM1429 486h6v5h-6zM1411 491h6v6h-6zM1435 497h6v6h-6zM1429 503h12v5h-12z"/>
<path fill="#60ff9f" d="M1381 309h6v6h-6zM1381 315h6v6h-6zM1393 474h6v6h-6zM1399 480h6v6h-6zM1423 480h6v6h-6zM1405 486h6v5h-6zM1429 491h6v6h-6zM1423 497h12v6h-12z"/>
<path fill="#70ff8f" d="M1387 446h6v5h-6zM1417 474h6v6h-6zM1423 486h6v5h-6zM1417 491h12v6h-12z"/>
<path fill="#80ff80" d="M1393 446h6v5h-6zM1387 451h6v6h-6zM1405 457h6v6h-6zM1387 463h6v6h-6zM1411 469h6v5h-6zM1405 480h6v6h-6zM1417 480h6v6h-6zM1411 486h12v5h-12z"/>
<path fill="#8fff70" d="M1399 451h6v6h-6zM1387 457h6v6h-6zM1399 474h6v6h-6zM1411 474h6v6h-6zM1411 480h6v6h-6z"/>
<path fill="#9fff60" d="M1393 451h6v6h-6zM1405 463h6v6h-6zM1393 469h6v5h-6zM1405 469h6v5h-6zM1405 474h6v6h-6z"/>
<path fill="#afff50" d="M1393 457h12v6h-12zM1393 463h6v6h-6zM1399 469h6v5h-6z"/>
<path fill="#bfff40" d="M1399 463h6v6h-6z"/>

<rect x="1204.5" y="100.5" width="788" height="551" fill="none" stroke="#000" stroke-width="3"/>
<rect x="1205" y="96" width="789" height="3" fill="#8a8a8a"/>
<rect x="1318" y="102" width="3" height="5" fill="#000"/>
<rect x="1318" y="642" width="3" height="8" fill="#000"/>
<rect x="1436" y="102" width="3" height="5" fill="#000"/>
<rect x="1436" y="642" width="3" height="8" fill="#000"/>
<rect x="1555" y="102" width="3" height="5" fill="#000"/>
<rect x="1555" y="642" width="3" height="8" fill="#000"/>
<rect x="1673" y="102" width="3" height="5" fill="#000"/>
<rect x="1673" y="642" width="3" height="8" fill="#000"/>
<rect x="1791" y="102" width="3" height="5" fill="#000"/>
<rect x="1791" y="642" width="3" height="8" fill="#000"/>
<rect x="1910" y="102" width="3" height="5" fill="#000"/>
<rect x="1910" y="642" width="3" height="8" fill="#000"/>
<rect x="1206" y="208" width="8" height="3" fill="#000"/>
<rect x="1983" y="208" width="8" height="3" fill="#000"/>
<rect x="1206" y="322" width="8" height="3" fill="#000"/>
<rect x="1983" y="322" width="8" height="3" fill="#000"/>
<rect x="1206" y="436" width="8" height="3" fill="#000"/>
<rect x="1983" y="436" width="8" height="3" fill="#000"/>
<rect x="1206" y="550" width="8" height="3" fill="#000"/>
<rect x="1983" y="550" width="8" height="3" fill="#000"/>
</g>
<text transform="translate(1319.8 713.5) scale(0.93 1)" font-size="51.5" text-anchor="middle" class="t">20</text>
<text transform="translate(1438.2 713.5) scale(0.93 1)" font-size="51.5" text-anchor="middle" class="t">40</text>
<text transform="translate(1556.5 713.5) scale(0.93 1)" font-size="51.5" text-anchor="middle" class="t">60</text>
<text transform="translate(1674.9 713.5) scale(0.93 1)" font-size="51.5" text-anchor="middle" class="t">80</text>
<text transform="translate(1793.2 713.5) scale(0.93 1)" font-size="51.5" text-anchor="middle" class="t">100</text>
<text transform="translate(1911.6 713.5) scale(0.93 1)" font-size="51.5" text-anchor="middle" class="t">120</text>
<text transform="translate(1186.5 227.8) scale(0.93 1)" font-size="51.5" text-anchor="end" class="t">20</text>
<text transform="translate(1186.5 341.5) scale(0.93 1)" font-size="51.5" text-anchor="end" class="t">40</text>
<text transform="translate(1186.5 455.3) scale(0.93 1)" font-size="51.5" text-anchor="end" class="t">60</text>
<text transform="translate(1186.5 569.0) scale(0.93 1)" font-size="51.5" text-anchor="end" class="t">80</text>
<text transform="translate(1598.6 778.7) scale(0.945 1)" font-size="51" text-anchor="middle" class="t">Range[bin]</text>
<text transform="translate(1598.4 58.5) scale(1.03 1)" font-size="61" text-anchor="middle" class="t">(b)</text>
<text transform="translate(1096.0 376.0) rotate(-90) scale(0.95 1)" font-size="51" text-anchor="middle" class="t">Azimuth[bin]</text>
<g shape-rendering="crispEdges">
<rect x="170" y="904" width="788" height="555" fill="#0000ef"/>
<path fill="#00008f" d="M496 1219h6v6h-6zM490 1225h12v6h-12z"/>
<path fill="#00009f" d="M490 1219h6v6h-6zM502 1219h6v6h-6zM484 1225h6v6h-6zM502 1225h6v6h-6zM490 1231h12v5h-12z"/>
<path fill="#0000af" d="M567 1009h6v6h-6zM561 1015h12v5h-12zM561 1020h12v6h-12zM490 1214h12v5h-12zM484 1219h6v6h-6zM484 1231h6v5h-6zM502 1231h6v5h-6z"/>
<path fill="#0000bf" d="M555 1003h24v6h-24zM549 1009h18v6h-18zM573 1009h12v6h-12zM549 1015h12v5h-12zM573 1015h12v5h-12zM549 1020h12v6h-12zM573 1020h12v6h-12zM555 1026h30v6h-30zM561 1032h12v5h-12zM478 1072h12v5h-12zM478 1077h18v6h-18zM478 1083h18v6h-18zM478 1089h18v5h-18zM478 1094h18v6h-18zM484 1100h6v6h-6zM668 1111h5v6h-5zM662 1117h17v6h-17zM662 1123h17v5h-17zM662 1128h23v6h-23zM662 1134h23v6h-23zM662 1140h17v5h-17zM662 1145h17v6h-17zM668 1151h5v6h-5zM573 1163h12v5h-12zM567 1168h18v6h-18zM567 1174h18v6h-18zM561 1180h24v5h-24zM567 1185h18v6h-18zM567 1191h12v6h-12zM484 1214h6v5h-6zM502 1214h6v5h-6zM508 1219h6v6h-6zM508 1225h6v6h-6zM508 1231h6v5h-6zM490 1236h12v6h-12zM555 1254h30v5h-30zM555 1259h36v6h-36zM549 1265h42v6h-42zM555 1271h36v5h-36zM555 1276h30v6h-30z"/>
<path fill="#0000cf" d="M549 998h36v5h-36zM549 1003h6v6h-6zM579 1003h12v6h-12zM543 1009h6v6h-6zM585 1009h6v6h-6zM543 1015h6v5h-6zM585 1015h6v5h-6zM543 1020h6v6h-6zM585 1020h6v6h-6zM549 1026h6v6h-6zM585 1026h6v6h-6zM549 1032h12v5h-12zM573 1032h12v5h-12zM561 1037h18v6h-18zM478 1054h12v6h-12zM472 1060h24v6h-24zM466 1066h36v6h-36zM466 1072h12v5h-12zM490 1072h18v5h-18zM466 1077h12v6h-12zM496 1077h12v6h-12zM466 1083h12v6h-12zM496 1083h12v6h-12zM466 1089h12v5h-12zM496 1089h12v5h-12zM466 1094h12v6h-12zM496 1094h12v6h-12zM472 1100h12v6h-12zM490 1100h18v6h-18zM668 1100h11v6h-11zM472 1106h36v5h-36zM662 1106h23v5h-23zM478 1111h24v6h-24zM656 1111h12v6h-12zM673 1111h12v6h-12zM656 1117h6v6h-6zM679 1117h6v6h-6zM656 1123h6v5h-6zM679 1123h12v5h-12zM656 1128h6v6h-6zM685 1128h6v6h-6zM656 1134h6v6h-6zM685 1134h6v6h-6zM656 1140h6v5h-6zM679 1140h12v5h-12zM656 1145h6v6h-6zM679 1145h6v6h-6zM567 1151h18v6h-18zM656 1151h12v6h-12zM673 1151h12v6h-12zM561 1157h30v6h-30zM662 1157h23v6h-23zM561 1163h12v5h-12zM585 1163h6v5h-6zM668 1163h5v5h-5zM555 1168h12v6h-12zM585 1168h11v6h-11zM555 1174h12v6h-12zM585 1174h11v6h-11zM555 1180h6v5h-6zM585 1180h11v5h-11zM555 1185h12v6h-12zM585 1185h6v6h-6zM555 1191h12v6h-12zM579 1191h12v6h-12zM561 1197h24v5h-24zM561 1202h24v6h-24zM490 1208h12v6h-12zM508 1214h6v5h-6zM478 1219h6v6h-6zM478 1225h6v6h-6zM514 1225h6v6h-6zM537 1225h18v6h-18zM478 1231h6v5h-6zM537 1231h24v5h-24zM484 1236h6v6h-6zM502 1236h6v6h-6zM537 1236h36v6h-36zM543 1242h42v6h-42zM543 1248h53v6h-53zM543 1254h12v5h-12zM585 1254h11v5h-11zM537 1259h18v6h-18zM591 1259h11v6h-11zM537 1265h12v6h-12zM591 1265h11v6h-11zM537 1271h18v5h-18zM591 1271h11v5h-11zM543 1276h12v6h-12zM585 1276h17v6h-17zM543 1282h53v6h-53zM555 1288h36v5h-36z"/>
<path fill="#0000df" d="M549 986h36v6h-36zM543 992h48v6h-48zM543 998h6v5h-6zM585 998h11v5h-11zM537 1003h12v6h-12zM591 1003h5v6h-5zM537 1009h6v6h-6zM591 1009h11v6h-11zM537 1015h6v5h-6zM591 1015h11v5h-11zM537 1020h6v6h-6zM591 1020h11v6h-11zM537 1026h12v6h-12zM591 1026h5v6h-5zM543 1032h6v5h-6zM585 1032h11v5h-11zM549 1037h12v6h-12zM579 1037h12v6h-12zM472 1043h24v6h-24zM561 1043h18v6h-18zM466 1049h36v5h-36zM466 1054h12v6h-12zM490 1054h18v6h-18zM460 1060h12v6h-12zM496 1060h12v6h-12zM460 1066h6v6h-6zM502 1066h12v6h-12zM460 1072h6v5h-6zM508 1072h6v5h-6zM460 1077h6v6h-6zM508 1077h6v6h-6zM460 1083h6v6h-6zM508 1083h6v6h-6zM460 1089h6v5h-6zM508 1089h6v5h-6zM662 1089h23v5h-23zM460 1094h6v6h-6zM508 1094h6v6h-6zM656 1094h35v6h-35zM460 1100h12v6h-12zM508 1100h6v6h-6zM656 1100h12v6h-12zM679 1100h12v6h-12zM466 1106h6v5h-6zM508 1106h6v5h-6zM650 1106h12v5h-12zM685 1106h12v5h-12zM466 1111h12v6h-12zM502 1111h12v6h-12zM650 1111h6v6h-6zM685 1111h12v6h-12zM472 1117h36v6h-36zM650 1117h6v6h-6zM685 1117h12v6h-12zM478 1123h30v5h-30zM650 1123h6v5h-6zM691 1123h6v5h-6zM490 1128h6v6h-6zM650 1128h6v6h-6zM691 1128h6v6h-6zM650 1134h6v6h-6zM691 1134h6v6h-6zM650 1140h6v5h-6zM691 1140h6v5h-6zM561 1145h24v6h-24zM650 1145h6v6h-6zM685 1145h12v6h-12zM561 1151h6v6h-6zM585 1151h6v6h-6zM650 1151h6v6h-6zM685 1151h12v6h-12zM555 1157h6v6h-6zM591 1157h5v6h-5zM650 1157h12v6h-12zM685 1157h6v6h-6zM555 1163h6v5h-6zM591 1163h11v5h-11zM656 1163h12v5h-12zM673 1163h18v5h-18zM549 1168h6v6h-6zM596 1168h6v6h-6zM662 1168h23v6h-23zM549 1174h6v6h-6zM596 1174h6v6h-6zM549 1180h6v5h-6zM596 1180h6v5h-6zM549 1185h6v6h-6zM591 1185h11v6h-11zM413 1191h12v6h-12zM549 1191h6v6h-6zM591 1191h5v6h-5zM407 1197h24v5h-24zM549 1197h12v5h-12zM585 1197h11v5h-11zM253 1202h12v6h-12zM407 1202h24v6h-24zM549 1202h12v6h-12zM585 1202h6v6h-6zM253 1208h12v6h-12zM407 1208h24v6h-24zM484 1208h6v6h-6zM502 1208h6v6h-6zM549 1208h42v6h-42zM413 1214h12v5h-12zM478 1214h6v5h-6zM514 1214h6v5h-6zM525 1214h60v5h-60zM514 1219h65v6h-65zM520 1225h17v6h-17zM555 1225h24v6h-24zM514 1231h23v5h-23zM561 1231h24v5h-24zM478 1236h6v6h-6zM508 1236h29v6h-29zM573 1236h23v6h-23zM490 1242h18v6h-18zM525 1242h18v6h-18zM585 1242h17v6h-17zM531 1248h12v6h-12zM596 1248h12v6h-12zM531 1254h12v5h-12zM596 1254h18v5h-18zM525 1259h12v6h-12zM602 1259h12v6h-12zM443 1265h17v6h-17zM525 1265h12v6h-12zM602 1265h12v6h-12zM443 1271h17v5h-17zM531 1271h6v5h-6zM602 1271h12v5h-12zM437 1276h29v6h-29zM531 1276h12v6h-12zM602 1276h12v6h-12zM437 1282h29v6h-29zM531 1282h12v6h-12zM596 1282h18v6h-18zM443 1288h17v5h-17zM537 1288h18v5h-18zM591 1288h17v5h-17zM449 1293h5v6h-5zM543 1293h59v6h-59zM561 1299h30v6h-30z"/>
<path fill="#0000ff" d="M484 981h36v5h-36zM460 986h24v6h-24zM520 986h11v6h-11zM383 992h36v6h-36zM449 992h11v6h-11zM531 992h6v6h-6zM372 998h77v5h-77zM531 998h6v5h-6zM360 1003h23v6h-23zM413 1003h18v6h-18zM354 1009h18v6h-18zM514 1009h17v6h-17zM354 1015h12v5h-12zM484 1015h36v5h-36zM348 1020h12v6h-12zM478 1020h12v6h-12zM342 1026h18v6h-18zM466 1026h12v6h-12zM514 1026h6v6h-6zM342 1032h12v5h-12zM460 1032h6v5h-6zM514 1032h11v5h-11zM336 1037h18v6h-18zM454 1037h6v6h-6zM514 1037h23v6h-23zM336 1043h12v6h-12zM449 1043h11v6h-11zM514 1043h35v6h-35zM330 1049h12v5h-12zM449 1049h11v5h-11zM520 1049h23v5h-23zM555 1049h6v5h-6zM324 1054h18v6h-18zM449 1054h5v6h-5zM520 1054h17v6h-17zM561 1054h47v6h-47zM324 1060h12v6h-12zM449 1060h5v6h-5zM520 1060h11v6h-11zM567 1060h53v6h-53zM318 1066h12v6h-12zM449 1066h5v6h-5zM525 1066h6v6h-6zM573 1066h53v6h-53zM312 1072h18v5h-18zM449 1072h5v5h-5zM525 1072h6v5h-6zM573 1072h59v5h-59zM307 1077h17v6h-17zM443 1077h11v6h-11zM525 1077h6v6h-6zM573 1077h65v6h-65zM307 1083h11v6h-11zM443 1083h6v6h-6zM525 1083h6v6h-6zM573 1083h65v6h-65zM301 1089h17v5h-17zM437 1089h12v5h-12zM525 1089h6v5h-6zM573 1089h71v5h-71zM295 1094h17v6h-17zM443 1094h11v6h-11zM525 1094h6v6h-6zM573 1094h71v6h-71zM295 1100h12v6h-12zM443 1100h11v6h-11zM525 1100h6v6h-6zM573 1100h71v6h-71zM289 1106h18v5h-18zM449 1106h5v5h-5zM525 1106h6v5h-6zM579 1106h59v5h-59zM289 1111h12v6h-12zM449 1111h5v6h-5zM525 1111h12v6h-12zM596 1111h42v6h-42zM283 1117h18v6h-18zM449 1117h11v6h-11zM525 1117h12v6h-12zM608 1117h30v6h-30zM283 1123h12v5h-12zM449 1123h11v5h-11zM520 1123h53v5h-53zM614 1123h24v5h-24zM283 1128h12v6h-12zM449 1128h17v6h-17zM520 1128h59v6h-59zM614 1128h24v6h-24zM277 1134h18v6h-18zM449 1134h23v6h-23zM514 1134h47v6h-47zM573 1134h12v6h-12zM620 1134h18v6h-18zM277 1140h12v5h-12zM449 1140h29v5h-29zM508 1140h12v5h-12zM537 1140h18v5h-18zM585 1140h11v5h-11zM620 1140h18v5h-18zM277 1145h12v6h-12zM449 1145h65v6h-65zM537 1145h12v6h-12zM596 1145h6v6h-6zM620 1145h18v6h-18zM271 1151h18v6h-18zM443 1151h65v6h-65zM543 1151h6v6h-6zM602 1151h42v6h-42zM271 1157h18v6h-18zM437 1157h71v6h-71zM543 1157h6v6h-6zM608 1157h36v6h-36zM271 1163h12v5h-12zM431 1163h77v5h-77zM543 1163h6v5h-6zM608 1163h36v5h-36zM271 1168h12v6h-12zM419 1168h89v6h-89zM608 1168h42v6h-42zM271 1174h12v6h-12zM383 1174h125v6h-125zM608 1174h54v6h-54zM265 1180h18v5h-18zM383 1180h125v5h-125zM608 1180h30v5h-30zM662 1180h23v5h-23zM265 1185h18v6h-18zM383 1185h24v6h-24zM437 1185h71v6h-71zM537 1185h6v6h-6zM608 1185h24v6h-24zM685 1185h12v6h-12zM265 1191h18v6h-18zM383 1191h18v6h-18zM443 1191h71v6h-71zM537 1191h6v6h-6zM608 1191h18v6h-18zM691 1191h6v6h-6zM271 1197h12v5h-12zM383 1197h12v5h-12zM443 1197h77v5h-77zM525 1197h18v5h-18zM608 1197h18v5h-18zM691 1197h12v5h-12zM271 1202h6v6h-6zM383 1202h12v6h-12zM443 1202h41v6h-41zM508 1202h29v6h-29zM602 1202h24v6h-24zM691 1202h12v6h-12zM271 1208h6v6h-6zM383 1208h12v6h-12zM443 1208h35v6h-35zM602 1208h24v6h-24zM691 1208h12v6h-12zM271 1214h6v5h-6zM383 1214h18v5h-18zM443 1214h29v5h-29zM596 1214h30v5h-30zM691 1214h12v5h-12zM271 1219h12v6h-12zM383 1219h18v6h-18zM437 1219h35v6h-35zM596 1219h30v6h-30zM691 1219h6v6h-6zM265 1225h18v6h-18zM389 1225h24v6h-24zM431 1225h41v6h-41zM602 1225h30v6h-30zM685 1225h6v6h-6zM265 1231h18v5h-18zM389 1231h83v5h-83zM608 1231h30v5h-30zM673 1231h12v5h-12zM265 1236h18v6h-18zM395 1236h77v6h-77zM620 1236h30v6h-30zM662 1236h17v6h-17zM271 1242h12v6h-12zM395 1242h83v6h-83zM626 1242h47v6h-47zM271 1248h12v6h-12zM401 1248h89v6h-89zM496 1248h18v6h-18zM626 1248h47v6h-47zM271 1254h18v5h-18zM407 1254h42v5h-42zM454 1254h48v5h-48zM514 1254h6v5h-6zM632 1254h41v5h-41zM277 1259h12v6h-12zM413 1259h24v6h-24zM466 1259h30v6h-30zM514 1259h6v6h-6zM632 1259h18v6h-18zM656 1259h17v6h-17zM277 1265h18v6h-18zM413 1265h24v6h-24zM472 1265h18v6h-18zM632 1265h41v6h-41zM283 1271h12v5h-12zM419 1271h12v5h-12zM472 1271h18v5h-18zM520 1271h5v5h-5zM632 1271h41v5h-41zM283 1276h18v6h-18zM425 1276h6v6h-6zM472 1276h18v6h-18zM520 1276h5v6h-5zM638 1276h35v6h-35zM289 1282h18v6h-18zM425 1282h6v6h-6zM472 1282h18v6h-18zM520 1282h5v6h-5zM638 1282h30v6h-30zM295 1288h17v5h-17zM431 1288h6v5h-6zM472 1288h18v5h-18zM520 1288h5v5h-5zM638 1288h30v5h-30zM295 1293h17v6h-17zM431 1293h6v6h-6zM472 1293h18v6h-18zM520 1293h11v6h-11zM644 1293h18v6h-18zM301 1299h17v6h-17zM431 1299h12v6h-12zM466 1299h24v6h-24zM525 1299h12v6h-12zM307 1305h17v5h-17zM437 1305h12v5h-12zM460 1305h30v5h-30zM531 1305h24v5h-24zM312 1310h18v6h-18zM437 1310h47v6h-47zM561 1310h12v6h-12zM318 1316h18v6h-18zM443 1316h41v6h-41zM573 1316h6v6h-6zM324 1322h18v5h-18zM443 1322h35v5h-35zM579 1322h6v5h-6zM330 1327h18v6h-18zM466 1327h6v6h-6zM585 1327h6v6h-6zM336 1333h18v6h-18zM585 1333h11v6h-11zM342 1339h18v5h-18zM591 1339h5v5h-5zM348 1344h24v6h-24zM585 1344h11v6h-11zM354 1350h24v6h-24zM561 1350h30v6h-30zM366 1356h29v6h-29zM537 1356h30v6h-30zM378 1362h29v5h-29zM425 1362h12v5h-12zM520 1362h29v5h-29zM395 1367h36v6h-36zM437 1367h17v6h-17zM490 1367h35v6h-35zM454 1373h54v6h-54z"/>
<path fill="#0010ff" d="M484 986h36v6h-36zM460 992h18v6h-18zM520 992h11v6h-11zM449 998h11v5h-11zM525 998h6v5h-6zM383 1003h30v6h-30zM431 1003h6v6h-6zM514 1003h17v6h-17zM372 1009h23v6h-23zM407 1009h18v6h-18zM490 1009h24v6h-24zM366 1015h12v5h-12zM478 1015h6v5h-6zM360 1020h12v6h-12zM472 1020h6v6h-6zM360 1026h6v6h-6zM460 1026h6v6h-6zM354 1032h12v5h-12zM454 1032h6v5h-6zM354 1037h6v6h-6zM449 1037h5v6h-5zM348 1043h12v6h-12zM443 1043h6v6h-6zM342 1049h12v5h-12zM443 1049h6v5h-6zM543 1049h12v5h-12zM342 1054h6v6h-6zM443 1054h6v6h-6zM537 1054h12v6h-12zM555 1054h6v6h-6zM336 1060h12v6h-12zM443 1060h6v6h-6zM531 1060h6v6h-6zM561 1060h6v6h-6zM330 1066h12v6h-12zM443 1066h6v6h-6zM531 1066h6v6h-6zM567 1066h6v6h-6zM330 1072h6v5h-6zM437 1072h12v5h-12zM531 1072h6v5h-6zM567 1072h6v5h-6zM324 1077h12v6h-12zM437 1077h6v6h-6zM531 1077h6v6h-6zM567 1077h6v6h-6zM318 1083h12v6h-12zM431 1083h12v6h-12zM531 1083h6v6h-6zM567 1083h6v6h-6zM318 1089h6v5h-6zM431 1089h6v5h-6zM531 1089h6v5h-6zM567 1089h6v5h-6zM312 1094h12v6h-12zM437 1094h6v6h-6zM531 1094h6v6h-6zM567 1094h6v6h-6zM307 1100h11v6h-11zM437 1100h6v6h-6zM531 1100h6v6h-6zM567 1100h6v6h-6zM307 1106h5v5h-5zM443 1106h6v5h-6zM531 1106h12v5h-12zM561 1106h18v5h-18zM301 1111h11v6h-11zM443 1111h6v6h-6zM537 1111h12v6h-12zM555 1111h41v6h-41zM301 1117h6v6h-6zM443 1117h6v6h-6zM537 1117h71v6h-71zM295 1123h12v5h-12zM443 1123h6v5h-6zM573 1123h18v5h-18zM596 1123h18v5h-18zM295 1128h12v6h-12zM443 1128h6v6h-6zM579 1128h17v6h-17zM602 1128h12v6h-12zM295 1134h6v6h-6zM443 1134h6v6h-6zM585 1134h35v6h-35zM289 1140h12v5h-12zM437 1140h12v5h-12zM520 1140h17v5h-17zM596 1140h24v5h-24zM289 1145h12v6h-12zM437 1145h12v6h-12zM514 1145h6v6h-6zM531 1145h6v6h-6zM602 1145h18v6h-18zM289 1151h6v6h-6zM431 1151h12v6h-12zM508 1151h6v6h-6zM537 1151h6v6h-6zM289 1157h6v6h-6zM425 1157h12v6h-12zM508 1157h6v6h-6zM537 1157h6v6h-6zM283 1163h12v5h-12zM372 1163h11v5h-11zM413 1163h18v5h-18zM508 1163h6v5h-6zM537 1163h6v5h-6zM283 1168h12v6h-12zM372 1168h47v6h-47zM508 1168h6v6h-6zM537 1168h6v6h-6zM283 1174h12v6h-12zM372 1174h11v6h-11zM508 1174h6v6h-6zM537 1174h6v6h-6zM283 1180h6v5h-6zM372 1180h11v5h-11zM508 1180h6v5h-6zM537 1180h6v5h-6zM638 1180h24v5h-24zM283 1185h6v6h-6zM372 1185h11v6h-11zM508 1185h12v6h-12zM531 1185h6v6h-6zM632 1185h12v6h-12zM673 1185h12v6h-12zM283 1191h6v6h-6zM372 1191h11v6h-11zM514 1191h23v6h-23zM626 1191h12v6h-12zM679 1191h12v6h-12zM283 1197h6v5h-6zM372 1197h11v5h-11zM520 1197h5v5h-5zM626 1197h6v5h-6zM685 1197h6v5h-6zM277 1202h12v6h-12zM372 1202h11v6h-11zM626 1202h6v6h-6zM685 1202h6v6h-6zM277 1208h12v6h-12zM372 1208h11v6h-11zM626 1208h6v6h-6zM685 1208h6v6h-6zM277 1214h12v5h-12zM378 1214h5v5h-5zM626 1214h6v5h-6zM685 1214h6v5h-6zM283 1219h6v6h-6zM378 1219h5v6h-5zM626 1219h12v6h-12zM679 1219h12v6h-12zM283 1225h6v6h-6zM378 1225h11v6h-11zM632 1225h12v6h-12zM673 1225h12v6h-12zM283 1231h6v5h-6zM383 1231h6v5h-6zM638 1231h35v5h-35zM283 1236h12v6h-12zM383 1236h12v6h-12zM650 1236h12v6h-12zM283 1242h12v6h-12zM389 1242h6v6h-6zM283 1248h12v6h-12zM389 1248h12v6h-12zM289 1254h12v5h-12zM395 1254h12v5h-12zM502 1254h12v5h-12zM289 1259h12v6h-12zM401 1259h12v6h-12zM496 1259h6v6h-6zM650 1259h6v6h-6zM295 1265h12v6h-12zM407 1265h6v6h-6zM490 1265h6v6h-6zM514 1265h6v6h-6zM295 1271h12v5h-12zM407 1271h12v5h-12zM490 1271h6v5h-6zM301 1276h11v6h-11zM413 1276h12v6h-12zM490 1276h6v6h-6zM307 1282h11v6h-11zM419 1282h6v6h-6zM490 1282h6v6h-6zM312 1288h12v5h-12zM419 1288h12v5h-12zM490 1288h6v5h-6zM312 1293h12v6h-12zM425 1293h6v6h-6zM490 1293h6v6h-6zM318 1299h12v6h-12zM425 1299h6v6h-6zM490 1299h6v6h-6zM520 1299h5v6h-5zM324 1305h12v5h-12zM431 1305h6v5h-6zM490 1305h6v5h-6zM520 1305h11v5h-11zM330 1310h12v6h-12zM431 1310h6v6h-6zM484 1310h12v6h-12zM531 1310h30v6h-30zM336 1316h12v6h-12zM437 1316h6v6h-6zM484 1316h6v6h-6zM561 1316h12v6h-12zM342 1322h12v5h-12zM437 1322h6v5h-6zM478 1322h12v5h-12zM567 1322h12v5h-12zM348 1327h12v6h-12zM443 1327h23v6h-23zM472 1327h12v6h-12zM573 1327h12v6h-12zM354 1333h12v6h-12zM466 1333h6v6h-6zM579 1333h6v6h-6zM360 1339h18v5h-18zM579 1339h12v5h-12zM372 1344h11v6h-11zM567 1344h18v6h-18zM378 1350h17v6h-17zM531 1350h30v6h-30zM395 1356h12v6h-12zM419 1356h12v6h-12zM514 1356h23v6h-23zM407 1362h18v5h-18zM437 1362h12v5h-12zM490 1362h30v5h-30zM454 1367h36v6h-36z"/>
<path fill="#0020ff" d="M478 992h42v6h-42zM460 998h65v5h-65zM437 1003h12v6h-12zM484 1003h30v6h-30zM395 1009h12v6h-12zM425 1009h6v6h-6zM478 1009h12v6h-12zM378 1015h41v5h-41zM472 1015h6v5h-6zM372 1020h11v6h-11zM466 1020h6v6h-6zM366 1026h12v6h-12zM366 1032h6v5h-6zM449 1032h5v5h-5zM360 1037h12v6h-12zM443 1037h6v6h-6zM360 1043h6v6h-6zM437 1043h6v6h-6zM354 1049h6v5h-6zM437 1049h6v5h-6zM348 1054h12v6h-12zM437 1054h6v6h-6zM549 1054h6v6h-6zM348 1060h6v6h-6zM437 1060h6v6h-6zM537 1060h24v6h-24zM342 1066h6v6h-6zM431 1066h12v6h-12zM537 1066h6v6h-6zM561 1066h6v6h-6zM336 1072h12v5h-12zM431 1072h6v5h-6zM537 1072h6v5h-6zM561 1072h6v5h-6zM336 1077h6v6h-6zM425 1077h12v6h-12zM561 1077h6v6h-6zM330 1083h6v6h-6zM419 1083h12v6h-12zM561 1083h6v6h-6zM324 1089h12v5h-12zM419 1089h12v5h-12zM561 1089h6v5h-6zM324 1094h6v6h-6zM425 1094h12v6h-12zM537 1094h6v6h-6zM561 1094h6v6h-6zM318 1100h6v6h-6zM431 1100h6v6h-6zM537 1100h6v6h-6zM561 1100h6v6h-6zM312 1106h12v5h-12zM431 1106h12v5h-12zM543 1106h18v5h-18zM312 1111h6v6h-6zM437 1111h6v6h-6zM549 1111h6v6h-6zM307 1117h11v6h-11zM437 1117h6v6h-6zM307 1123h5v5h-5zM437 1123h6v5h-6zM591 1123h5v5h-5zM307 1128h5v6h-5zM437 1128h6v6h-6zM596 1128h6v6h-6zM301 1134h11v6h-11zM437 1134h6v6h-6zM301 1140h6v5h-6zM431 1140h6v5h-6zM301 1145h6v6h-6zM366 1145h6v6h-6zM425 1145h12v6h-12zM520 1145h11v6h-11zM295 1151h12v6h-12zM366 1151h12v6h-12zM419 1151h12v6h-12zM514 1151h6v6h-6zM531 1151h6v6h-6zM295 1157h6v6h-6zM366 1157h23v6h-23zM407 1157h18v6h-18zM514 1157h6v6h-6zM295 1163h6v5h-6zM366 1163h6v5h-6zM383 1163h30v5h-30zM295 1168h6v6h-6zM366 1168h6v6h-6zM366 1174h6v6h-6zM289 1180h6v5h-6zM366 1180h6v5h-6zM514 1180h6v5h-6zM531 1180h6v5h-6zM289 1185h6v6h-6zM366 1185h6v6h-6zM520 1185h11v6h-11zM644 1185h29v6h-29zM366 1191h6v6h-6zM638 1191h6v6h-6zM673 1191h6v6h-6zM366 1197h6v5h-6zM632 1197h6v5h-6zM679 1197h6v5h-6zM366 1202h6v6h-6zM632 1202h6v6h-6zM366 1208h6v6h-6zM632 1208h6v6h-6zM372 1214h6v5h-6zM632 1214h6v5h-6zM679 1214h6v5h-6zM372 1219h6v6h-6zM638 1219h6v6h-6zM673 1219h6v6h-6zM372 1225h6v6h-6zM644 1225h29v6h-29zM289 1231h6v5h-6zM378 1231h5v5h-5zM378 1236h5v6h-5zM295 1242h6v6h-6zM383 1242h6v6h-6zM295 1248h6v6h-6zM383 1248h6v6h-6zM301 1254h6v5h-6zM389 1254h6v5h-6zM301 1259h6v6h-6zM395 1259h6v6h-6zM502 1259h12v6h-12zM307 1265h5v6h-5zM401 1265h6v6h-6zM496 1265h6v6h-6zM307 1271h11v5h-11zM401 1271h6v5h-6zM514 1271h6v5h-6zM312 1276h12v6h-12zM407 1276h6v6h-6zM514 1276h6v6h-6zM318 1282h6v6h-6zM413 1282h6v6h-6zM514 1282h6v6h-6zM324 1288h6v5h-6zM413 1288h6v5h-6zM514 1288h6v5h-6zM324 1293h12v6h-12zM419 1293h6v6h-6zM514 1293h6v6h-6zM330 1299h12v6h-12zM419 1299h6v6h-6zM496 1299h6v6h-6zM514 1299h6v6h-6zM336 1305h12v5h-12zM425 1305h6v5h-6zM496 1305h6v5h-6zM514 1305h6v5h-6zM342 1310h12v6h-12zM425 1310h6v6h-6zM496 1310h12v6h-12zM514 1310h17v6h-17zM348 1316h12v6h-12zM431 1316h6v6h-6zM490 1316h12v6h-12zM525 1316h36v6h-36zM354 1322h12v5h-12zM431 1322h6v5h-6zM490 1322h6v5h-6zM561 1322h6v5h-6zM360 1327h12v6h-12zM437 1327h6v6h-6zM484 1327h6v6h-6zM567 1327h6v6h-6zM366 1333h12v6h-12zM449 1333h17v6h-17zM472 1333h18v6h-18zM567 1333h12v6h-12zM378 1339h11v5h-11zM466 1339h12v5h-12zM561 1339h18v5h-18zM383 1344h18v6h-18zM520 1344h47v6h-47zM395 1350h30v6h-30zM502 1350h29v6h-29zM407 1356h12v6h-12zM431 1356h6v6h-6zM484 1356h30v6h-30zM449 1362h41v5h-41z"/>
<path fill="#0030ff" d="M449 1003h35v6h-35zM431 1009h6v6h-6zM472 1009h6v6h-6zM419 1015h6v5h-6zM466 1015h6v5h-6zM383 1020h24v6h-24zM460 1020h6v6h-6zM378 1026h11v6h-11zM454 1026h6v6h-6zM372 1032h11v5h-11zM372 1037h6v6h-6zM437 1037h6v6h-6zM366 1043h6v6h-6zM431 1043h6v6h-6zM360 1049h12v5h-12zM431 1049h6v5h-6zM360 1054h6v6h-6zM431 1054h6v6h-6zM354 1060h6v6h-6zM425 1060h12v6h-12zM348 1066h12v6h-12zM425 1066h6v6h-6zM543 1066h18v6h-18zM348 1072h6v5h-6zM419 1072h12v5h-12zM543 1072h6v5h-6zM555 1072h6v5h-6zM342 1077h6v6h-6zM413 1077h12v6h-12zM537 1077h6v6h-6zM555 1077h6v6h-6zM336 1083h12v6h-12zM413 1083h6v6h-6zM537 1083h6v6h-6zM555 1083h6v6h-6zM336 1089h6v5h-6zM407 1089h12v5h-12zM537 1089h6v5h-6zM555 1089h6v5h-6zM330 1094h6v6h-6zM419 1094h6v6h-6zM543 1094h6v6h-6zM555 1094h6v6h-6zM324 1100h12v6h-12zM425 1100h6v6h-6zM543 1100h18v6h-18zM324 1106h6v5h-6zM425 1106h6v5h-6zM318 1111h6v6h-6zM431 1111h6v6h-6zM431 1117h6v6h-6zM312 1123h6v5h-6zM431 1123h6v5h-6zM312 1128h6v6h-6zM431 1128h6v6h-6zM366 1134h6v6h-6zM425 1134h12v6h-12zM307 1140h5v5h-5zM366 1140h6v5h-6zM425 1140h6v5h-6zM307 1145h5v6h-5zM360 1145h6v6h-6zM372 1145h6v6h-6zM419 1145h6v6h-6zM360 1151h6v6h-6zM378 1151h11v6h-11zM407 1151h12v6h-12zM520 1151h11v6h-11zM301 1157h6v6h-6zM360 1157h6v6h-6zM389 1157h18v6h-18zM531 1157h6v6h-6zM360 1163h6v5h-6zM514 1163h6v5h-6zM531 1163h6v5h-6zM360 1168h6v6h-6zM514 1168h6v6h-6zM531 1168h6v6h-6zM295 1174h6v6h-6zM360 1174h6v6h-6zM514 1174h6v6h-6zM531 1174h6v6h-6zM360 1180h6v5h-6zM520 1180h11v5h-11zM360 1185h6v6h-6zM289 1191h6v6h-6zM360 1191h6v6h-6zM644 1191h29v6h-29zM360 1197h6v5h-6zM638 1197h6v5h-6zM673 1197h6v5h-6zM360 1202h6v6h-6zM638 1202h6v6h-6zM679 1202h6v6h-6zM360 1208h6v6h-6zM638 1208h6v6h-6zM679 1208h6v6h-6zM366 1214h6v5h-6zM638 1214h12v5h-12zM673 1214h6v5h-6zM289 1219h6v6h-6zM366 1219h6v6h-6zM644 1219h29v6h-29zM289 1225h6v6h-6zM366 1225h6v6h-6zM372 1231h6v5h-6zM372 1236h6v6h-6zM378 1242h5v6h-5zM378 1248h5v6h-5zM383 1254h6v5h-6zM307 1259h5v6h-5zM389 1259h6v6h-6zM312 1265h6v6h-6zM395 1265h6v6h-6zM502 1265h12v6h-12zM395 1271h6v5h-6zM496 1271h6v5h-6zM508 1271h6v5h-6zM401 1276h6v6h-6zM496 1276h6v6h-6zM324 1282h6v6h-6zM407 1282h6v6h-6zM496 1282h6v6h-6zM330 1288h6v5h-6zM407 1288h6v5h-6zM496 1288h6v5h-6zM336 1293h12v6h-12zM413 1293h6v6h-6zM496 1293h6v6h-6zM508 1293h6v6h-6zM342 1299h12v6h-12zM413 1299h6v6h-6zM502 1299h12v6h-12zM348 1305h6v5h-6zM419 1305h6v5h-6zM502 1305h12v5h-12zM354 1310h6v6h-6zM508 1310h6v6h-6zM360 1316h12v6h-12zM425 1316h6v6h-6zM502 1316h23v6h-23zM366 1322h12v5h-12zM425 1322h6v5h-6zM496 1322h65v5h-65zM372 1327h11v6h-11zM490 1327h18v6h-18zM514 1327h53v6h-53zM378 1333h17v6h-17zM443 1333h6v6h-6zM490 1333h77v6h-77zM389 1339h24v5h-24zM454 1339h12v5h-12zM478 1339h83v5h-83zM401 1344h18v6h-18zM460 1344h60v6h-60zM425 1350h6v6h-6zM454 1350h48v6h-48zM437 1356h47v6h-47z"/>
<path fill="#0040ff" d="M437 1009h12v6h-12zM460 1009h12v6h-12zM425 1015h6v5h-6zM460 1015h6v5h-6zM407 1020h6v6h-6zM454 1020h6v6h-6zM389 1026h12v6h-12zM449 1026h5v6h-5zM383 1032h6v5h-6zM443 1032h6v5h-6zM378 1037h5v6h-5zM372 1043h6v6h-6zM425 1043h6v6h-6zM372 1049h6v5h-6zM419 1049h12v5h-12zM366 1054h6v6h-6zM419 1054h12v6h-12zM360 1060h6v6h-6zM413 1060h12v6h-12zM360 1066h6v6h-6zM413 1066h12v6h-12zM354 1072h6v5h-6zM407 1072h12v5h-12zM549 1072h6v5h-6zM348 1077h6v6h-6zM401 1077h12v6h-12zM543 1077h12v6h-12zM348 1083h6v6h-6zM401 1083h12v6h-12zM543 1083h12v6h-12zM342 1089h12v5h-12zM395 1089h12v5h-12zM543 1089h12v5h-12zM336 1094h12v6h-12zM389 1094h30v6h-30zM549 1094h6v6h-6zM372 1100h11v6h-11zM413 1100h12v6h-12zM360 1106h18v5h-18zM419 1106h6v5h-6zM360 1111h12v6h-12zM425 1111h6v6h-6zM318 1117h6v6h-6zM360 1117h12v6h-12zM425 1117h6v6h-6zM360 1123h12v5h-12zM425 1123h6v5h-6zM360 1128h12v6h-12zM425 1128h6v6h-6zM360 1134h6v6h-6zM372 1134h6v6h-6zM419 1134h6v6h-6zM360 1140h6v5h-6zM372 1140h11v5h-11zM413 1140h12v5h-12zM354 1145h6v6h-6zM378 1145h11v6h-11zM407 1145h12v6h-12zM354 1151h6v6h-6zM389 1151h18v6h-18zM354 1157h6v6h-6zM520 1157h11v6h-11zM301 1163h6v5h-6zM354 1163h6v5h-6zM520 1163h11v5h-11zM354 1168h6v6h-6zM520 1168h11v6h-11zM354 1174h6v6h-6zM520 1174h11v6h-11zM354 1180h6v5h-6zM354 1185h6v6h-6zM354 1191h6v6h-6zM289 1197h6v5h-6zM354 1197h6v5h-6zM644 1197h29v5h-29zM289 1202h6v6h-6zM354 1202h6v6h-6zM644 1202h12v6h-12zM668 1202h11v6h-11zM289 1208h6v6h-6zM644 1208h12v6h-12zM668 1208h11v6h-11zM289 1214h6v5h-6zM360 1214h6v5h-6zM650 1214h23v5h-23zM360 1219h6v6h-6zM360 1225h6v6h-6zM366 1231h6v5h-6zM295 1236h6v6h-6zM366 1236h6v6h-6zM372 1242h6v6h-6zM301 1248h6v6h-6zM378 1254h5v5h-5zM383 1259h6v6h-6zM389 1265h6v6h-6zM318 1271h6v5h-6zM502 1271h6v5h-6zM324 1276h6v6h-6zM395 1276h6v6h-6zM502 1276h12v6h-12zM330 1282h6v6h-6zM401 1282h6v6h-6zM502 1282h12v6h-12zM336 1288h6v5h-6zM502 1288h12v5h-12zM502 1293h6v6h-6zM354 1305h6v5h-6zM360 1310h6v6h-6zM419 1310h6v6h-6zM378 1322h5v5h-5zM383 1327h6v6h-6zM431 1327h6v6h-6zM508 1327h6v6h-6zM395 1333h6v6h-6zM437 1333h6v6h-6zM443 1339h11v5h-11zM419 1344h6v6h-6zM449 1344h11v6h-11zM431 1350h23v6h-23z"/>
<path fill="#0050ff" d="M449 1009h11v6h-11zM431 1015h6v5h-6zM449 1015h11v5h-11zM413 1020h6v6h-6zM449 1020h5v6h-5zM443 1026h6v6h-6zM389 1032h6v5h-6zM437 1032h6v5h-6zM383 1037h6v6h-6zM431 1037h6v6h-6zM378 1043h5v6h-5zM372 1054h6v6h-6zM413 1054h6v6h-6zM366 1060h6v6h-6zM407 1060h6v6h-6zM401 1066h12v6h-12zM395 1072h12v5h-12zM354 1077h6v6h-6zM389 1077h12v6h-12zM389 1083h12v6h-12zM383 1089h12v5h-12zM348 1094h6v6h-6zM378 1094h11v6h-11zM360 1100h12v6h-12zM383 1100h30v6h-30zM378 1106h11v5h-11zM407 1106h12v5h-12zM354 1111h6v6h-6zM372 1111h11v6h-11zM413 1111h12v6h-12zM354 1117h6v6h-6zM372 1117h11v6h-11zM413 1117h12v6h-12zM354 1123h6v5h-6zM372 1123h11v5h-11zM413 1123h12v5h-12zM354 1128h6v6h-6zM372 1128h11v6h-11zM413 1128h12v6h-12zM312 1134h6v6h-6zM354 1134h6v6h-6zM378 1134h11v6h-11zM407 1134h12v6h-12zM354 1140h6v5h-6zM383 1140h30v5h-30zM389 1145h18v6h-18zM307 1151h5v6h-5zM295 1180h6v5h-6zM295 1185h6v6h-6zM656 1202h12v6h-12zM354 1208h6v6h-6zM656 1208h12v6h-12zM354 1214h6v5h-6zM354 1219h6v6h-6zM295 1231h6v5h-6zM360 1231h6v5h-6zM366 1242h6v6h-6zM372 1248h6v6h-6zM307 1254h5v5h-5zM389 1271h6v5h-6zM407 1293h6v6h-6zM372 1316h6v6h-6zM389 1327h6v6h-6zM413 1339h6v5h-6zM437 1339h6v5h-6zM425 1344h24v6h-24z"/>
<path fill="#0060ff" d="M437 1015h12v5h-12zM419 1020h30v6h-30zM401 1026h12v6h-12zM437 1026h6v6h-6zM431 1032h6v5h-6zM425 1037h6v6h-6zM419 1043h6v6h-6zM378 1049h5v5h-5zM413 1049h6v5h-6zM366 1066h6v6h-6zM360 1072h6v5h-6zM383 1083h6v6h-6zM378 1089h5v5h-5zM354 1094h6v6h-6zM372 1094h6v6h-6zM354 1106h6v5h-6zM389 1106h18v5h-18zM324 1111h6v6h-6zM383 1111h30v6h-30zM383 1117h30v6h-30zM318 1123h6v5h-6zM383 1123h30v5h-30zM383 1128h30v6h-30zM389 1134h18v6h-18zM312 1140h6v5h-6zM301 1168h6v6h-6zM295 1191h6v6h-6zM295 1225h6v6h-6zM301 1242h6v6h-6zM312 1259h6v6h-6zM318 1265h6v6h-6zM354 1299h6v6h-6zM360 1305h6v5h-6zM366 1310h6v6h-6zM425 1327h6v6h-6zM401 1333h6v6h-6zM431 1333h6v6h-6zM419 1339h6v5h-6zM431 1339h6v5h-6z"/>
<path fill="#0070ff" d="M413 1026h24v6h-24zM395 1032h6v5h-6zM419 1032h12v5h-12zM389 1037h6v6h-6zM419 1037h6v6h-6zM383 1043h6v6h-6zM407 1054h6v6h-6zM372 1060h6v6h-6zM401 1060h6v6h-6zM395 1066h6v6h-6zM366 1072h6v5h-6zM389 1072h6v5h-6zM360 1077h6v6h-6zM383 1077h6v6h-6zM354 1083h6v6h-6zM378 1083h5v6h-5zM354 1089h6v5h-6zM372 1089h6v5h-6zM360 1094h12v6h-12zM336 1100h6v6h-6zM354 1100h6v6h-6zM330 1106h6v5h-6zM307 1157h5v6h-5zM348 1168h6v6h-6zM301 1174h6v6h-6zM348 1174h6v6h-6zM348 1180h6v5h-6zM348 1185h6v6h-6zM348 1191h6v6h-6zM295 1197h6v5h-6zM348 1197h6v5h-6zM295 1202h6v6h-6zM295 1208h6v6h-6zM295 1214h6v5h-6zM295 1219h6v6h-6zM354 1225h6v6h-6zM301 1236h6v6h-6zM307 1248h5v6h-5zM383 1265h6v6h-6zM324 1271h6v5h-6zM330 1276h6v6h-6zM336 1282h6v6h-6zM342 1288h6v5h-6zM401 1288h6v5h-6zM348 1293h6v6h-6zM383 1322h6v5h-6zM425 1333h6v6h-6zM425 1339h6v5h-6z"/>
<path fill="#0080ff" d="M401 1032h18v5h-18zM413 1037h6v6h-6zM413 1043h6v6h-6zM383 1049h6v5h-6zM407 1049h6v5h-6zM378 1054h5v6h-5zM401 1054h6v6h-6zM378 1060h5v6h-5zM395 1060h6v6h-6zM372 1066h11v6h-11zM389 1066h6v6h-6zM372 1072h17v5h-17zM366 1077h17v6h-17zM360 1083h18v6h-18zM360 1089h12v5h-12zM318 1128h6v6h-6zM312 1145h6v6h-6zM348 1151h6v6h-6zM348 1157h6v6h-6zM307 1163h5v5h-5zM348 1163h6v5h-6zM301 1180h6v5h-6zM348 1202h6v6h-6zM301 1231h6v5h-6zM360 1236h6v6h-6zM312 1254h6v5h-6zM378 1259h5v6h-5zM413 1305h6v5h-6zM419 1316h6v6h-6zM395 1327h6v6h-6zM407 1333h6v6h-6z"/>
<path fill="#008fff" d="M395 1037h18v6h-18zM389 1043h6v6h-6zM401 1043h12v6h-12zM389 1049h6v5h-6zM401 1049h6v5h-6zM383 1054h18v6h-18zM383 1060h12v6h-12zM383 1066h6v6h-6zM324 1117h6v6h-6zM348 1145h6v6h-6zM312 1151h6v6h-6zM307 1168h5v6h-5zM301 1185h6v6h-6zM301 1225h6v6h-6zM307 1242h5v6h-5zM372 1254h6v5h-6zM318 1259h6v6h-6zM395 1282h6v6h-6zM372 1310h6v6h-6zM378 1316h5v6h-5zM413 1333h12v6h-12z"/>
<path fill="#009fff" d="M395 1043h6v6h-6zM395 1049h6v5h-6zM318 1134h6v6h-6zM348 1140h6v5h-6zM312 1157h6v6h-6zM307 1174h5v6h-5zM301 1191h6v6h-6zM301 1197h6v5h-6zM301 1202h6v6h-6zM301 1208h6v6h-6zM348 1208h6v6h-6zM301 1214h6v5h-6zM301 1219h6v6h-6zM324 1265h6v6h-6zM330 1271h6v5h-6zM354 1293h6v6h-6zM360 1299h6v6h-6zM366 1305h6v5h-6zM389 1322h6v5h-6zM419 1322h6v5h-6zM419 1327h6v6h-6z"/>
<path fill="#00afff" d="M348 1134h6v6h-6zM318 1140h6v5h-6zM312 1163h6v5h-6zM307 1180h5v5h-5zM307 1185h5v6h-5zM348 1214h6v5h-6zM307 1236h5v6h-5zM312 1248h6v6h-6zM366 1248h6v6h-6zM336 1276h6v6h-6zM342 1282h6v6h-6zM348 1288h6v5h-6zM407 1299h6v6h-6zM401 1327h6v6h-6zM413 1327h6v6h-6z"/>
<path fill="#00bfff" d="M330 1111h6v6h-6zM324 1123h6v5h-6zM348 1128h6v6h-6zM318 1145h6v6h-6zM318 1151h6v6h-6zM312 1168h6v6h-6zM312 1174h6v6h-6zM307 1191h5v6h-5zM307 1197h5v5h-5zM307 1225h5v6h-5zM307 1231h5v5h-5zM354 1231h6v5h-6zM312 1242h6v6h-6zM318 1254h6v5h-6zM389 1276h6v6h-6zM413 1310h6v6h-6zM383 1316h6v6h-6zM395 1322h6v5h-6zM413 1322h6v5h-6zM407 1327h6v6h-6z"/>
<path fill="#00cfff" d="M342 1100h6v6h-6zM336 1106h6v5h-6zM348 1123h6v5h-6zM318 1157h6v6h-6zM318 1163h6v5h-6zM318 1168h6v6h-6zM318 1174h6v6h-6zM312 1180h6v5h-6zM342 1180h6v5h-6zM312 1185h6v6h-6zM342 1185h6v6h-6zM312 1191h6v6h-6zM342 1191h6v6h-6zM342 1197h6v5h-6zM307 1202h5v6h-5zM307 1208h5v6h-5zM307 1214h5v5h-5zM307 1219h5v6h-5zM348 1219h6v6h-6zM360 1242h6v6h-6zM324 1259h6v6h-6zM330 1265h6v6h-6zM336 1271h6v5h-6zM383 1271h6v5h-6zM366 1299h6v6h-6zM372 1305h6v5h-6zM378 1310h5v6h-5zM413 1316h6v6h-6zM401 1322h12v5h-12z"/>
<path fill="#00dfff" d="M348 1117h6v6h-6zM324 1128h6v6h-6zM324 1134h6v6h-6zM324 1151h6v6h-6zM324 1157h6v6h-6zM324 1163h6v5h-6zM342 1163h6v5h-6zM324 1168h24v6h-24zM324 1174h24v6h-24zM318 1180h24v5h-24zM318 1185h24v6h-24zM318 1191h24v6h-24zM312 1197h18v5h-18zM336 1197h6v5h-6zM312 1202h6v6h-6zM342 1202h6v6h-6zM312 1208h6v6h-6zM342 1208h6v6h-6zM312 1214h6v5h-6zM312 1231h6v5h-6zM312 1236h6v6h-6zM318 1248h6v6h-6zM324 1254h6v5h-6zM372 1259h6v6h-6zM378 1265h5v6h-5zM342 1276h6v6h-6zM348 1282h6v6h-6zM354 1288h6v5h-6zM360 1293h6v6h-6zM401 1293h6v6h-6zM407 1305h6v5h-6zM407 1310h6v6h-6zM389 1316h6v6h-6zM407 1316h6v6h-6z"/>
<path fill="#00efff" d="M348 1100h6v6h-6zM348 1111h6v6h-6zM330 1117h6v6h-6zM324 1140h6v5h-6zM324 1145h6v6h-6zM330 1151h6v6h-6zM342 1151h6v6h-6zM330 1157h18v6h-18zM330 1163h12v5h-12zM330 1197h6v5h-6zM318 1202h24v6h-24zM318 1208h24v6h-24zM318 1214h6v5h-6zM342 1214h6v5h-6zM312 1219h6v6h-6zM312 1225h6v6h-6zM348 1225h6v6h-6zM318 1236h6v6h-6zM354 1236h6v6h-6zM318 1242h6v6h-6zM324 1248h6v6h-6zM360 1248h6v6h-6zM366 1254h6v5h-6zM330 1259h6v6h-6zM336 1265h6v6h-6zM342 1271h6v5h-6zM383 1276h6v6h-6zM389 1282h6v6h-6zM395 1288h6v5h-6zM372 1299h6v6h-6zM401 1299h6v6h-6zM378 1305h5v5h-5zM383 1310h12v6h-12zM401 1310h6v6h-6zM395 1316h12v6h-12z"/>
<path fill="#00ffff" d="M342 1106h12v5h-12zM336 1111h6v6h-6zM330 1123h6v5h-6zM330 1128h6v6h-6zM330 1140h6v5h-6zM330 1145h18v6h-18zM336 1151h6v6h-6zM324 1214h18v5h-18zM318 1219h30v6h-30zM318 1225h18v6h-18zM342 1225h6v6h-6zM318 1231h12v5h-12zM348 1231h6v5h-6zM324 1236h6v6h-6zM324 1242h6v6h-6zM354 1242h6v6h-6zM330 1254h6v5h-6zM360 1254h6v5h-6zM336 1259h6v6h-6zM366 1259h6v6h-6zM342 1265h6v6h-6zM372 1265h6v6h-6zM378 1271h5v5h-5zM348 1276h6v6h-6zM354 1282h6v6h-6zM360 1288h6v5h-6zM366 1293h6v6h-6zM395 1293h6v6h-6zM378 1299h5v6h-5zM395 1299h6v6h-6zM383 1305h6v5h-6zM395 1305h12v5h-12zM395 1310h6v6h-6z"/>
<path fill="#10ffef" d="M342 1111h6v6h-6zM336 1117h12v6h-12zM336 1123h12v5h-12zM336 1128h12v6h-12zM330 1134h18v6h-18zM336 1140h12v5h-12zM336 1225h6v6h-6zM330 1231h18v5h-18zM330 1236h24v6h-24zM330 1242h24v6h-24zM330 1248h30v6h-30zM336 1254h24v5h-24zM342 1259h6v6h-6zM360 1259h6v6h-6zM366 1265h6v6h-6zM372 1271h6v5h-6zM389 1288h6v5h-6zM372 1293h6v6h-6zM389 1305h6v5h-6z"/>
<path fill="#20ffdf" d="M348 1271h6v5h-6zM378 1276h5v6h-5zM360 1282h6v6h-6zM366 1288h6v5h-6z"/>
<path fill="#30ffcf" d="M348 1259h6v6h-6zM348 1265h6v6h-6zM354 1276h6v6h-6zM383 1282h6v6h-6zM389 1293h6v6h-6zM383 1299h12v6h-12z"/>
<path fill="#40ffbf" d="M354 1259h6v6h-6zM378 1293h5v6h-5z"/>
<path fill="#50ffaf" d="M360 1265h6v6h-6zM366 1271h6v5h-6zM360 1276h18v6h-18zM366 1282h6v6h-6zM372 1288h6v5h-6zM383 1288h6v5h-6zM383 1293h6v6h-6z"/>
<path fill="#60ff9f" d="M354 1265h6v6h-6zM354 1271h12v5h-12zM372 1282h11v6h-11zM378 1288h5v5h-5z"/>

<rect x="171.5" y="905.5" width="785" height="552" fill="none" stroke="#000" stroke-width="3"/>
<rect x="167" y="906" width="3" height="551" fill="#dedede"/><rect x="170" y="1456" width="785" height="3" fill="#000040"/><rect x="170" y="1459" width="785" height="2" fill="#333"/>
<rect x="284" y="907" width="3" height="8" fill="#000"/>
<rect x="284" y="1450" width="3" height="6" fill="#000"/>
<rect x="403" y="907" width="3" height="8" fill="#000"/>
<rect x="403" y="1450" width="3" height="6" fill="#000"/>
<rect x="521" y="907" width="3" height="8" fill="#000"/>
<rect x="521" y="1450" width="3" height="6" fill="#000"/>
<rect x="639" y="907" width="3" height="8" fill="#000"/>
<rect x="639" y="1450" width="3" height="6" fill="#000"/>
<rect x="758" y="907" width="3" height="8" fill="#000"/>
<rect x="758" y="1450" width="3" height="6" fill="#000"/>
<rect x="876" y="907" width="3" height="8" fill="#000"/>
<rect x="876" y="1450" width="3" height="6" fill="#000"/>
<rect x="173" y="1016" width="5" height="3" fill="#000"/>
<rect x="950" y="1016" width="5" height="3" fill="#000"/>
<rect x="173" y="1130" width="5" height="3" fill="#000"/>
<rect x="950" y="1130" width="5" height="3" fill="#000"/>
<rect x="173" y="1243" width="5" height="3" fill="#000"/>
<rect x="950" y="1243" width="5" height="3" fill="#000"/>
<rect x="173" y="1357" width="5" height="3" fill="#000"/>
<rect x="950" y="1357" width="5" height="3" fill="#000"/>
</g>
<text transform="translate(284.5 1521.2) scale(0.93 1)" font-size="51.5" text-anchor="middle" class="t">20</text>
<text transform="translate(402.9 1521.2) scale(0.93 1)" font-size="51.5" text-anchor="middle" class="t">40</text>
<text transform="translate(521.2 1521.2) scale(0.93 1)" font-size="51.5" text-anchor="middle" class="t">60</text>
<text transform="translate(639.6 1521.2) scale(0.93 1)" font-size="51.5" text-anchor="middle" class="t">80</text>
<text transform="translate(757.9 1521.2) scale(0.93 1)" font-size="51.5" text-anchor="middle" class="t">100</text>
<text transform="translate(876.3 1521.2) scale(0.93 1)" font-size="51.5" text-anchor="middle" class="t">120</text>
<text transform="translate(153.0 1035.5) scale(0.93 1)" font-size="51.5" text-anchor="end" class="t">20</text>
<text transform="translate(153.0 1149.2) scale(0.93 1)" font-size="51.5" text-anchor="end" class="t">40</text>
<text transform="translate(153.0 1263.0) scale(0.93 1)" font-size="51.5" text-anchor="end" class="t">60</text>
<text transform="translate(153.0 1376.7) scale(0.93 1)" font-size="51.5" text-anchor="end" class="t">80</text>
<text transform="translate(563.3 1586.4) scale(0.945 1)" font-size="51" text-anchor="middle" class="t">Range[bin]</text>
<text transform="translate(563.1 865.9) scale(1.03 1)" font-size="61" text-anchor="middle" class="t">(c)</text>
<text transform="translate(61.2 1183.7) rotate(-90) scale(0.95 1)" font-size="51" text-anchor="middle" class="t">Azimuth[bin]</text>
<g shape-rendering="crispEdges">
<rect x="1074" y="907" width="94" height="3" fill="#b4b4b4"/>
<rect x="1072" y="1458" width="96" height="11" fill="#00008f"/>
<rect x="1072" y="1449" width="96" height="9" fill="#00009f"/>
<rect x="1072" y="1440" width="96" height="9" fill="#0000af"/>
<rect x="1072" y="1432" width="96" height="8" fill="#0000bf"/>
<rect x="1072" y="1423" width="96" height="9" fill="#0000cf"/>
<rect x="1072" y="1414" width="96" height="9" fill="#0000df"/>
<rect x="1072" y="1406" width="96" height="8" fill="#0000ef"/>
<rect x="1072" y="1397" width="96" height="9" fill="#0000ff"/>
<rect x="1072" y="1388" width="96" height="9" fill="#0010ff"/>
<rect x="1072" y="1380" width="96" height="8" fill="#0020ff"/>
<rect x="1072" y="1371" width="96" height="9" fill="#0030ff"/>
<rect x="1072" y="1362" width="96" height="9" fill="#0040ff"/>
<rect x="1072" y="1354" width="96" height="8" fill="#0050ff"/>
<rect x="1072" y="1345" width="96" height="9" fill="#0060ff"/>
<rect x="1072" y="1336" width="96" height="9" fill="#0070ff"/>
<rect x="1072" y="1328" width="96" height="8" fill="#0080ff"/>
<rect x="1072" y="1319" width="96" height="9" fill="#008fff"/>
<rect x="1072" y="1311" width="96" height="8" fill="#009fff"/>
<rect x="1072" y="1302" width="96" height="9" fill="#00afff"/>
<rect x="1072" y="1293" width="96" height="9" fill="#00bfff"/>
<rect x="1072" y="1285" width="96" height="8" fill="#00cfff"/>
<rect x="1072" y="1276" width="96" height="9" fill="#00dfff"/>
<rect x="1072" y="1267" width="96" height="9" fill="#00efff"/>
<rect x="1072" y="1259" width="96" height="8" fill="#00ffff"/>
<rect x="1072" y="1250" width="96" height="9" fill="#10ffef"/>
<rect x="1072" y="1241" width="96" height="9" fill="#20ffdf"/>
<rect x="1072" y="1233" width="96" height="8" fill="#30ffcf"/>
<rect x="1072" y="1224" width="96" height="9" fill="#40ffbf"/>
<rect x="1072" y="1215" width="96" height="9" fill="#50ffaf"/>
<rect x="1072" y="1207" width="96" height="8" fill="#60ff9f"/>
<rect x="1072" y="1198" width="96" height="9" fill="#70ff8f"/>
<rect x="1072" y="1189" width="96" height="9" fill="#80ff80"/>
<rect x="1072" y="1181" width="96" height="8" fill="#8fff70"/>
<rect x="1072" y="1172" width="96" height="9" fill="#9fff60"/>
<rect x="1072" y="1164" width="96" height="8" fill="#afff50"/>
<rect x="1072" y="1155" width="96" height="9" fill="#bfff40"/>
<rect x="1072" y="1146" width="96" height="9" fill="#cfff30"/>
<rect x="1072" y="1138" width="96" height="8" fill="#dfff20"/>
<rect x="1072" y="1129" width="96" height="9" fill="#efff10"/>
<rect x="1072" y="1120" width="96" height="9" fill="#ffff00"/>
<rect x="1072" y="1112" width="96" height="8" fill="#ffef00"/>
<rect x="1072" y="1103" width="96" height="9" fill="#ffdf00"/>
<rect x="1072" y="1094" width="96" height="9" fill="#ffcf00"/>
<rect x="1072" y="1086" width="96" height="8" fill="#ffbf00"/>
<rect x="1072" y="1077" width="96" height="9" fill="#ffaf00"/>
<rect x="1072" y="1068" width="96" height="9" fill="#ff9f00"/>
<rect x="1072" y="1060" width="96" height="8" fill="#ff8f00"/>
<rect x="1072" y="1051" width="96" height="9" fill="#ff8000"/>
<rect x="1072" y="1042" width="96" height="9" fill="#ff7000"/>
<rect x="1072" y="1034" width="96" height="8" fill="#ff6000"/>
<rect x="1072" y="1025" width="96" height="9" fill="#ff5000"/>
<rect x="1072" y="1016" width="96" height="9" fill="#ff4000"/>
<rect x="1072" y="1008" width="96" height="8" fill="#ff3000"/>
<rect x="1072" y="999" width="96" height="9" fill="#ff2000"/>
<rect x="1072" y="991" width="96" height="8" fill="#ff1000"/>
<rect x="1072" y="982" width="96" height="9" fill="#ff0000"/>
<rect x="1072" y="973" width="96" height="9" fill="#ef0000"/>
<rect x="1072" y="965" width="96" height="8" fill="#df0000"/>
<rect x="1072" y="956" width="96" height="9" fill="#cf0000"/>
<rect x="1072" y="947" width="96" height="9" fill="#bf0000"/>
<rect x="1072" y="939" width="96" height="8" fill="#af0000"/>
<rect x="1072" y="930" width="96" height="9" fill="#9f0000"/>
<rect x="1072" y="921" width="96" height="9" fill="#8f0000"/>
<rect x="1072" y="910" width="96" height="11" fill="#800000"/>
<rect x="1073.5" y="911.5" width="93" height="556" fill="none" stroke="#000" stroke-width="3"/>
<rect x="1075" y="950" width="6" height="3" fill="#000"/>
<rect x="1159" y="950" width="6" height="3" fill="#000"/>
<rect x="1075" y="1103" width="6" height="3" fill="#000"/>
<rect x="1159" y="1103" width="6" height="3" fill="#000"/>
<rect x="1075" y="1256" width="6" height="3" fill="#000"/>
<rect x="1159" y="1256" width="6" height="3" fill="#000"/>
<rect x="1075" y="1409" width="6" height="3" fill="#000"/>
<rect x="1159" y="1409" width="6" height="3" fill="#000"/>
</g>
<text transform="translate(1186.5 974.5) scale(0.93 1)" font-size="63" class="t">1.5</text>
<text transform="translate(1186.5 1127.4) scale(0.93 1)" font-size="63" class="t">1</text>
<text transform="translate(1186.5 1280.3) scale(0.93 1)" font-size="63" class="t">0.5</text>
<text transform="translate(1186.5 1433.2) scale(0.93 1)" font-size="63" class="t">0</text>
</svg>
</body></html>
